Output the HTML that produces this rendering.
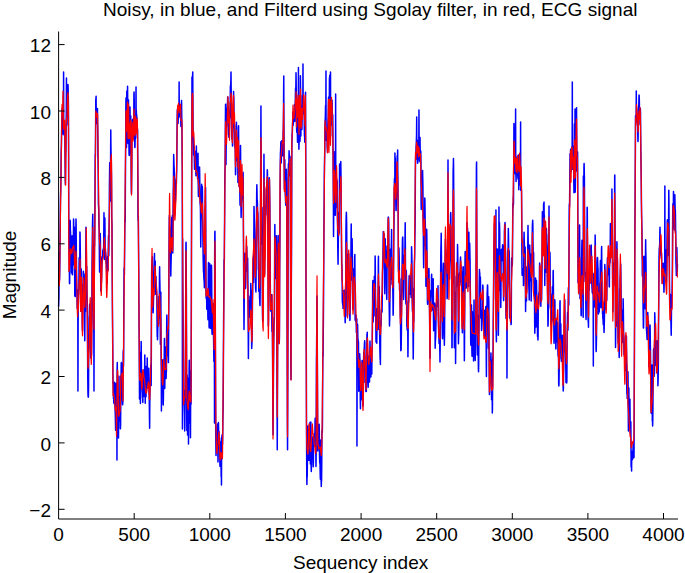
<!DOCTYPE html>
<html><head><meta charset="utf-8"><style>
html,body{margin:0;padding:0;background:#fff;width:685px;height:573px;overflow:hidden}
svg text{font-family:"Liberation Sans",sans-serif;fill:#000}
</style></head><body>
<svg width="685" height="573" viewBox="0 0 685 573" style="position:absolute;left:0;top:0"><path d="M58.60 306.4 58.75 300.8 58.90 299.0 59.05 269.4 59.20 252.6 59.36 263.0 59.51 280.1 59.66 276.6 59.81 264.5 59.96 246.7 60.11 237.0 60.26 219.0 60.41 202.8 60.57 195.1 60.72 190.6 60.87 182.9 61.02 168.6 61.17 152.5 61.32 148.6 61.47 143.1 61.62 131.9 61.78 120.0 61.93 116.1 62.08 108.2 62.23 120.8 62.38 132.6 62.53 134.0 62.68 127.8 62.83 112.4 62.99 107.6 63.14 116.7 63.29 130.6 63.44 129.5 63.59 72.0 63.74 129.5 63.89 134.1 64.04 135.0 64.20 128.9 64.35 121.7 64.50 126.8 64.65 132.7 64.80 132.4 64.95 147.8 65.10 162.9 65.25 179.9 65.41 184.6 65.56 171.7 65.71 154.9 65.86 152.0 66.01 140.3 66.16 126.2 66.31 114.2 66.46 78.0 66.61 125.4 66.77 124.8 66.92 114.7 67.07 108.0 67.22 97.1 67.37 101.8 67.52 115.4 67.67 110.5 67.82 93.4 67.98 84.6 68.13 87.8 68.28 94.8 68.43 106.1 68.58 143.3 68.73 208.8 68.88 243.2 69.03 250.3 69.19 257.9 69.34 264.0 69.49 283.6 69.64 283.7 69.79 251.9 69.94 233.3 70.09 220.3 70.24 221.7 70.40 231.3 70.55 231.6 70.70 256.3 70.85 263.1 71.00 264.2 71.15 263.2 71.30 264.2 71.45 273.0 71.61 270.8 71.76 259.2 71.91 241.1 72.06 235.8 72.21 254.7 72.36 274.8 72.51 274.5 72.66 267.5 72.82 263.4 72.97 263.3 73.12 265.0 73.27 261.5 73.42 237.6 73.57 219.1 73.72 223.1 73.87 241.2 74.02 241.7 74.18 235.2 74.33 227.1 74.48 231.9 74.63 267.4 74.78 296.0 74.93 295.8 75.08 294.6 75.23 296.6 75.39 293.6 75.54 282.0 75.69 278.8 75.84 235.5 75.99 219.1 76.14 225.4 76.29 249.6 76.44 260.3 76.60 276.4 76.75 286.3 76.90 292.8 77.05 298.8 77.20 308.5 77.35 304.3 77.50 295.9 77.65 290.0 77.81 313.4 77.96 391.0 78.11 326.2 78.26 305.6 78.41 294.1 78.56 294.5 78.71 290.0 78.86 289.4 79.02 269.3 79.17 257.8 79.32 262.9 79.47 271.4 79.62 282.9 79.77 268.1 79.92 232.0 80.07 233.1 80.23 246.8 80.38 259.6 80.53 284.1 80.68 308.3 80.83 311.2 80.98 296.3 81.13 277.6 81.28 269.0 81.43 286.7 81.59 303.2 81.74 303.3 81.89 290.5 82.04 295.2 82.19 310.4 82.34 326.9 82.49 330.7 82.64 309.8 82.80 293.8 82.95 284.6 83.10 290.0 83.25 272.9 83.40 271.3 83.55 273.1 83.70 279.3 83.85 283.3 84.01 283.7 84.16 294.3 84.31 302.0 84.46 302.5 84.61 319.7 84.76 340.7 84.91 320.3 85.06 288.9 85.22 273.9 85.37 295.1 85.52 311.4 85.67 292.4 85.82 259.6 85.97 227.2 86.12 230.8 86.27 247.3 86.43 271.4 86.58 268.4 86.73 266.4 86.88 280.1 87.03 294.9 87.18 297.6 87.33 311.2 87.48 342.0 87.64 358.2 87.79 379.4 87.94 392.4 88.09 396.2 88.24 397.2 88.39 397.1 88.54 387.5 88.69 356.3 88.84 345.4 89.00 331.6 89.15 316.8 89.30 318.3 89.45 310.1 89.60 304.5 89.75 304.2 89.90 324.9 90.05 324.8 90.21 319.5 90.36 313.7 90.51 325.5 90.66 331.7 90.81 358.1 90.96 351.3 91.11 345.1 91.26 347.5 91.42 355.6 91.57 353.2 91.72 334.4 91.87 302.6 92.02 267.9 92.17 254.3 92.32 239.4 92.47 227.1 92.63 219.1 92.78 214.3 92.93 229.6 93.08 272.3 93.23 300.2 93.38 306.6 93.53 318.7 93.68 325.8 93.84 332.3 93.99 391.0 94.14 326.1 94.29 274.4 94.44 244.4 94.59 246.0 94.74 234.8 94.89 214.5 95.05 177.7 95.20 154.2 95.35 157.3 95.50 140.0 95.65 120.7 95.80 99.0 95.95 99.0 96.10 96.2 96.26 120.6 96.41 123.4 96.56 116.1 96.71 111.8 96.86 113.0 97.01 113.2 97.16 119.7 97.31 116.4 97.46 108.6 97.62 124.0 97.77 130.6 97.92 154.5 98.07 161.6 98.22 174.9 98.37 202.2 98.52 206.1 98.67 207.7 98.83 216.1 98.98 224.6 99.13 228.3 99.28 242.8 99.43 261.0 99.58 272.1 99.73 258.7 99.88 250.3 100.04 235.3 100.19 233.4 100.34 237.6 100.49 248.8 100.64 272.2 100.79 290.9 100.94 290.4 101.09 282.1 101.25 272.9 101.40 283.0 101.55 279.5 101.70 272.1 101.85 267.3 102.00 259.2 102.15 256.8 102.30 261.3 102.46 256.6 102.61 257.8 102.76 251.2 102.91 250.4 103.06 250.1 103.21 249.0 103.36 251.6 103.51 249.3 103.67 247.2 103.82 229.6 103.97 212.7 104.12 225.1 104.27 246.4 104.42 259.5 104.57 245.7 104.72 217.7 104.87 218.8 105.03 233.9 105.18 250.7 105.33 254.8 105.48 252.1 105.63 253.9 105.78 255.6 105.93 255.3 106.08 263.5 106.24 258.9 106.39 261.6 106.54 268.2 106.69 271.7 106.84 266.8 106.99 268.1 107.14 283.5 107.29 276.4 107.45 262.9 107.60 256.6 107.75 258.1 107.90 269.9 108.05 270.6 108.20 254.5 108.35 243.2 108.50 235.6 108.66 247.7 108.81 255.7 108.96 242.4 109.11 226.3 109.26 216.0 109.41 186.8 109.56 174.6 109.71 162.7 109.87 177.8 110.02 178.9 110.17 188.8 110.32 201.0 110.47 175.8 110.62 156.9 110.77 130.0 110.92 145.5 111.08 155.8 111.23 154.2 111.38 170.3 111.53 176.3 111.68 217.0 111.83 221.3 111.98 225.1 112.13 252.1 112.28 283.0 112.44 311.1 112.59 328.1 112.74 345.8 112.89 371.0 113.04 383.5 113.19 383.7 113.34 386.9 113.49 398.7 113.65 393.2 113.80 402.0 113.95 403.5 114.10 396.0 114.25 390.4 114.40 382.3 114.55 388.7 114.70 398.2 114.86 402.5 115.01 406.5 115.16 410.5 115.31 415.0 115.46 421.9 115.61 430.2 115.76 407.5 115.91 383.3 116.07 384.8 116.22 392.2 116.37 404.5 116.52 408.8 116.67 404.8 116.82 395.5 116.97 460.0 117.12 369.1 117.28 362.6 117.43 380.1 117.58 397.8 117.73 383.9 117.88 376.8 118.03 375.9 118.18 399.9 118.33 418.3 118.49 437.9 118.64 414.9 118.79 409.7 118.94 400.9 119.09 400.0 119.24 396.5 119.39 405.1 119.54 420.9 119.69 418.1 119.85 395.7 120.00 376.2 120.15 401.4 120.30 428.1 120.45 428.8 120.60 424.0 120.75 405.0 120.90 396.0 121.06 378.7 121.21 363.4 121.36 362.6 121.51 365.4 121.66 363.3 121.81 381.8 121.96 395.9 122.11 394.6 122.27 397.7 122.42 399.4 122.57 404.8 122.72 403.9 122.87 401.5 123.02 387.8 123.17 353.8 123.32 350.2 123.48 366.4 123.63 360.9 123.78 319.1 123.93 289.3 124.08 268.1 124.23 270.0 124.38 274.7 124.53 261.1 124.69 238.5 124.84 224.0 124.99 218.0 125.14 222.3 125.29 204.0 125.44 175.8 125.59 153.6 125.74 132.0 125.90 102.7 126.05 97.7 126.20 112.8 126.35 142.6 126.50 147.5 126.65 137.3 126.80 91.0 126.95 133.1 127.10 129.4 127.26 114.2 127.41 99.8 127.56 86.3 127.71 101.5 127.86 131.1 128.01 143.3 128.16 137.6 128.31 112.0 128.47 100.1 128.62 110.9 128.77 129.5 128.92 142.2 129.07 154.0 129.22 155.5 129.37 155.0 129.52 152.6 129.68 144.8 129.83 117.1 129.98 106.9 130.13 117.8 130.28 126.2 130.43 133.0 130.58 128.9 130.73 115.7 130.89 129.5 131.04 149.7 131.19 175.6 131.34 189.8 131.49 193.5 131.64 178.8 131.79 166.3 131.94 145.0 132.10 124.7 132.25 124.1 132.40 124.6 132.55 119.6 132.70 119.4 132.85 121.7 133.00 131.6 133.15 128.0 133.31 134.6 133.46 138.8 133.61 136.5 133.76 122.8 133.91 94.2 134.06 92.1 134.21 99.8 134.36 116.5 134.51 126.8 134.67 135.4 134.82 147.6 134.97 147.1 135.12 139.4 135.27 138.9 135.42 116.8 135.57 121.8 135.72 124.3 135.88 118.5 136.03 87.0 136.18 123.3 136.33 110.3 136.48 117.0 136.63 114.6 136.78 117.0 136.93 117.4 137.09 126.5 137.24 137.9 137.39 136.0 137.54 129.1 137.69 155.2 137.84 179.6 137.99 216.2 138.14 220.6 138.30 215.7 138.45 228.6 138.60 250.2 138.75 269.7 138.90 300.7 139.05 323.4 139.20 338.3 139.35 369.0 139.51 398.9 139.66 399.2 139.81 378.0 139.96 352.2 140.11 364.5 140.26 381.5 140.41 403.6 140.56 388.5 140.72 374.2 140.87 370.9 141.02 359.0 141.17 341.4 141.32 353.3 141.47 369.6 141.62 382.5 141.77 380.6 141.92 376.9 142.08 383.8 142.23 389.5 142.38 393.3 142.53 398.3 142.68 395.8 142.83 402.4 142.98 391.8 143.13 371.1 143.29 370.1 143.44 378.8 143.59 391.1 143.74 386.0 143.89 373.6 144.04 373.3 144.19 381.5 144.34 396.5 144.50 395.6 144.65 365.9 144.80 354.9 144.95 370.3 145.10 393.8 145.25 403.3 145.40 381.1 145.55 366.2 145.71 367.4 145.86 386.5 146.01 396.7 146.16 390.8 146.31 375.2 146.46 368.4 146.61 376.0 146.76 387.3 146.92 377.3 147.07 369.9 147.22 358.0 147.37 367.5 147.52 379.1 147.67 373.0 147.82 381.8 147.97 388.1 148.13 388.1 148.28 386.9 148.43 377.8 148.58 381.3 148.73 368.3 148.88 377.1 149.03 391.8 149.18 396.1 149.34 405.5 149.49 418.7 149.64 428.2 149.79 403.4 149.94 388.6 150.09 386.5 150.24 383.4 150.39 383.1 150.54 378.8 150.70 367.3 150.85 364.8 151.00 374.5 151.15 385.4 151.30 360.7 151.45 319.3 151.60 277.7 151.75 264.5 151.91 266.4 152.06 260.0 152.21 259.0 152.36 256.7 152.51 270.3 152.66 280.7 152.81 288.4 152.96 297.0 153.12 312.8 153.27 308.3 153.42 302.8 153.57 296.7 153.72 288.8 153.87 279.0 154.02 273.6 154.17 267.6 154.33 259.8 154.48 253.6 154.63 273.9 154.78 291.3 154.93 274.4 155.08 265.6 155.23 261.1 155.38 277.1 155.54 288.6 155.69 294.2 155.84 286.0 155.99 276.6 156.14 284.4 156.29 287.4 156.44 291.4 156.59 290.5 156.75 294.5 156.90 299.9 157.05 320.6 157.20 336.6 157.35 333.5 157.50 339.8 157.65 336.2 157.80 326.5 157.95 315.2 158.11 321.9 158.26 324.8 158.41 324.6 158.56 315.8 158.71 306.1 158.86 296.6 159.01 304.9 159.16 318.0 159.32 306.1 159.47 277.1 159.62 266.8 159.77 279.5 159.92 284.8 160.07 297.8 160.22 324.2 160.37 344.3 160.53 325.2 160.68 300.5 160.83 292.2 160.98 327.0 161.13 357.6 161.28 370.0 161.43 411.0 161.58 375.9 161.74 373.0 161.89 383.9 162.04 374.0 162.19 377.6 162.34 372.8 162.49 370.5 162.64 367.2 162.79 359.7 162.95 377.9 163.10 403.4 163.25 404.9 163.40 398.6 163.55 382.7 163.70 382.4 163.85 377.4 164.00 383.6 164.16 369.8 164.31 347.4 164.46 338.4 164.61 364.7 164.76 388.5 164.91 379.2 165.06 362.0 165.21 355.8 165.36 350.1 165.52 349.4 165.67 347.0 165.82 363.3 165.97 372.8 166.12 378.4 166.27 371.5 166.42 371.4 166.57 345.4 166.73 320.5 166.88 315.0 167.03 336.1 167.18 347.2 167.33 348.1 167.48 345.6 167.63 331.5 167.78 347.1 167.94 356.1 168.09 353.6 168.24 354.3 168.39 362.6 168.54 347.2 168.69 319.6 168.84 293.7 168.99 260.0 169.15 235.0 169.30 218.4 169.45 215.4 169.60 229.0 169.75 226.7 169.90 230.6 170.05 246.6 170.20 240.3 170.36 236.1 170.51 249.6 170.66 261.8 170.81 276.0 170.96 266.7 171.11 260.8 171.26 254.3 171.41 234.5 171.57 221.4 171.72 217.6 171.87 221.7 172.02 221.5 172.17 220.8 172.32 216.8 172.47 215.3 172.62 238.1 172.77 253.0 172.93 239.0 173.08 218.4 173.23 193.7 173.38 185.0 173.53 172.7 173.68 154.4 173.83 159.3 173.98 164.8 174.14 167.1 174.29 171.7 174.44 179.1 174.59 197.8 174.74 212.7 174.89 214.9 175.04 201.0 175.19 206.0 175.35 196.0 175.50 193.0 175.65 190.8 175.80 187.8 175.95 184.6 176.10 178.9 176.25 179.2 176.40 183.4 176.56 173.9 176.71 171.9 176.86 157.4 177.01 137.2 177.16 118.5 177.31 109.7 177.46 119.6 177.61 115.9 177.77 119.0 177.92 119.0 178.07 123.4 178.22 119.2 178.37 109.0 178.52 106.3 178.67 106.9 178.82 114.4 178.98 117.2 179.13 82.0 179.28 116.2 179.43 111.7 179.58 109.8 179.73 105.9 179.88 112.7 180.03 112.2 180.18 110.3 180.34 115.5 180.49 115.2 180.64 117.5 180.79 120.7 180.94 126.6 181.09 118.6 181.24 109.0 181.39 107.0 181.55 100.4 181.70 112.4 181.85 122.6 182.00 134.0 182.15 157.0 182.30 170.3 182.45 429.0 182.60 238.7 182.76 280.8 182.91 301.1 183.06 311.0 183.21 326.4 183.36 361.1 183.51 402.2 183.66 398.6 183.81 397.6 183.97 390.5 184.12 399.5 184.27 407.1 184.42 412.1 184.57 419.3 184.72 431.1 184.87 425.0 185.02 407.8 185.18 397.6 185.33 371.6 185.48 347.0 185.63 314.6 185.78 280.5 185.93 243.6 186.08 242.2 186.23 270.8 186.39 295.0 186.54 345.1 186.69 403.0 186.84 430.4 186.99 407.6 187.14 374.9 187.29 382.5 187.44 415.7 187.59 435.1 187.75 433.3 187.90 422.6 188.05 424.9 188.20 402.2 188.35 378.0 188.50 444.0 188.65 409.7 188.80 423.4 188.96 400.6 189.11 370.7 189.26 360.3 189.41 380.0 189.56 398.5 189.71 392.1 189.86 375.5 190.01 370.8 190.17 399.3 190.32 427.1 190.47 437.7 190.62 403.9 190.77 386.2 190.92 398.8 191.07 404.2 191.22 362.0 191.38 287.7 191.53 215.8 191.68 166.5 191.83 145.2 191.98 77.0 192.13 94.1 192.28 83.0 192.43 78.1 192.59 76.2 192.74 71.9 192.89 97.6 193.04 123.7 193.19 137.5 193.34 138.8 193.49 143.8 193.64 154.9 193.80 150.1 193.95 147.1 194.10 148.3 194.25 154.0 194.40 163.1 194.55 169.2 194.70 164.8 194.85 165.6 195.00 162.0 195.16 161.4 195.31 163.0 195.46 151.4 195.61 155.2 195.76 160.5 195.91 175.8 196.06 172.5 196.21 163.6 196.37 146.1 196.52 160.5 196.67 166.8 196.82 172.9 196.97 173.7 197.12 164.4 197.27 161.2 197.42 173.6 197.58 178.8 197.73 172.7 197.88 160.1 198.03 153.2 198.18 179.1 198.33 192.2 198.48 196.6 198.63 184.6 198.79 177.0 198.94 181.7 199.09 182.2 199.24 189.8 199.39 171.9 199.54 167.1 199.69 173.5 199.84 185.9 200.00 199.4 200.15 204.2 200.30 204.5 200.45 208.4 200.60 223.3 200.75 246.9 200.90 234.1 201.05 222.0 201.21 214.0 201.36 205.0 201.51 188.0 201.66 184.2 201.81 189.9 201.96 195.2 202.11 194.9 202.26 186.4 202.41 189.2 202.57 205.4 202.72 221.6 202.87 232.5 203.02 248.1 203.17 259.3 203.32 264.0 203.47 271.9 203.62 271.9 203.78 275.5 203.93 278.9 204.08 280.6 204.23 282.0 204.38 287.7 204.53 272.2 204.68 249.7 204.83 241.1 204.99 229.6 205.14 206.8 205.29 205.1 205.44 191.6 205.59 187.5 205.74 225.5 205.89 266.3 206.04 293.7 206.20 298.4 206.35 298.5 206.50 296.7 206.65 298.6 206.80 309.3 206.95 307.0 207.10 305.2 207.25 300.4 207.41 298.7 207.56 298.7 207.71 295.6 207.86 316.4 208.01 319.7 208.16 301.9 208.31 270.8 208.46 262.4 208.62 282.9 208.77 293.2 208.92 302.1 209.07 326.2 209.22 327.9 209.37 301.2 209.52 270.8 209.67 263.4 209.82 269.1 209.98 264.8 210.13 281.5 210.28 309.4 210.43 325.5 210.58 327.6 210.73 328.5 210.88 318.9 211.03 285.5 211.19 268.2 211.34 265.3 211.49 265.2 211.64 272.5 211.79 295.6 211.94 330.8 212.09 334.3 212.24 328.4 212.40 324.6 212.55 316.8 212.70 315.2 212.85 314.4 213.00 303.8 213.15 310.0 213.30 322.7 213.45 332.4 213.61 340.2 213.76 351.1 213.91 361.5 214.06 357.7 214.21 343.3 214.36 303.0 214.51 423.0 214.66 257.8 214.82 232.5 214.97 231.2 215.12 272.3 215.27 314.9 215.42 356.1 215.57 396.7 215.72 430.0 215.87 442.4 216.03 455.4 216.18 444.1 216.33 435.1 216.48 443.0 216.63 444.4 216.78 440.7 216.93 443.7 217.08 443.2 217.24 441.4 217.39 428.5 217.54 425.9 217.69 423.9 217.84 447.4 217.99 462.0 218.14 455.4 218.29 433.8 218.44 422.5 218.60 428.6 218.75 438.9 218.90 440.9 219.05 431.4 219.20 444.1 219.35 437.9 219.50 438.4 219.65 441.8 219.81 457.4 219.96 466.2 220.11 466.5 220.26 457.9 220.41 460.9 220.56 451.4 220.71 442.0 220.86 447.8 221.02 459.7 221.17 476.7 221.32 465.1 221.47 485.0 221.62 437.2 221.77 440.8 221.92 439.6 222.07 434.8 222.23 444.2 222.38 444.9 222.53 443.5 222.68 437.2 222.83 420.2 222.98 414.8 223.13 406.6 223.28 387.0 223.44 351.8 223.59 323.9 223.74 304.1 223.89 286.5 224.04 259.7 224.19 264.2 224.34 259.3 224.49 236.9 224.65 210.2 224.80 181.1 224.95 171.5 225.10 167.4 225.25 147.9 225.40 120.9 225.55 104.2 225.70 119.4 225.85 141.5 226.01 164.6 226.16 146.2 226.31 124.2 226.46 120.7 226.61 125.3 226.76 113.7 226.91 116.3 227.06 108.2 227.22 113.2 227.37 102.9 227.52 105.5 227.67 96.9 227.82 103.3 227.97 111.9 228.12 106.3 228.27 122.6 228.43 134.7 228.58 131.9 228.73 135.5 228.88 137.2 229.03 128.5 229.18 130.6 229.33 129.7 229.48 121.4 229.64 110.8 229.79 109.7 229.94 118.0 230.09 115.1 230.24 99.4 230.39 86.0 230.54 89.9 230.69 85.6 230.85 80.9 231.00 72.0 231.15 87.6 231.30 96.3 231.45 118.0 231.60 128.1 231.75 138.7 231.90 136.5 232.06 137.7 232.21 137.7 232.36 133.1 232.51 146.0 232.66 145.8 232.81 135.0 232.96 127.2 233.11 127.5 233.26 120.6 233.42 106.7 233.57 91.6 233.72 98.1 233.87 97.2 234.02 116.0 234.17 117.5 234.32 128.0 234.47 124.3 234.63 130.0 234.78 143.2 234.93 148.1 235.08 147.1 235.23 147.2 235.38 158.7 235.53 174.7 235.68 172.1 235.84 161.1 235.99 152.9 236.14 148.3 236.29 134.1 236.44 122.2 236.59 131.3 236.74 146.7 236.89 154.9 237.05 158.5 237.20 160.6 237.35 149.9 237.50 141.5 237.65 146.9 237.80 163.7 237.95 182.4 238.10 170.8 238.26 142.9 238.41 127.4 238.56 125.7 238.71 154.2 238.86 173.0 239.01 180.2 239.16 186.8 239.31 168.5 239.47 170.1 239.62 163.0 239.77 180.0 239.92 198.9 240.07 205.2 240.22 180.0 240.37 154.0 240.52 145.4 240.67 167.5 240.83 184.0 240.98 207.6 241.13 217.4 241.28 210.2 241.43 201.1 241.58 202.2 241.73 190.5 241.88 183.5 242.04 176.7 242.19 175.0 242.34 180.5 242.49 191.7 242.64 198.6 242.79 198.7 242.94 182.9 243.09 172.2 243.25 187.0 243.40 220.4 243.55 258.4 243.70 281.5 243.85 308.0 244.00 329.4 244.15 315.5 244.30 287.0 244.46 271.2 244.61 262.4 244.76 253.8 244.91 253.3 245.06 270.0 245.21 275.1 245.36 280.3 245.51 288.5 245.67 286.8 245.82 274.6 245.97 259.7 246.12 260.8 246.27 268.4 246.42 267.6 246.57 261.7 246.72 246.4 246.88 253.5 247.03 264.0 247.18 271.4 247.33 268.2 247.48 265.1 247.63 258.1 247.78 268.0 247.93 285.9 248.08 300.0 248.24 332.2 248.39 358.5 248.54 343.1 248.69 315.3 248.84 300.9 248.99 308.2 249.14 309.8 249.29 308.5 249.45 312.7 249.60 317.2 249.75 314.7 249.90 297.6 250.05 295.9 250.20 301.1 250.35 306.4 250.50 298.5 250.66 292.7 250.81 283.6 250.96 289.0 251.11 290.4 251.26 300.2 251.41 312.6 251.56 335.3 251.71 348.4 251.87 344.9 252.02 340.7 252.17 332.9 252.32 318.1 252.47 301.5 252.62 294.1 252.77 284.7 252.92 275.1 253.08 268.5 253.23 258.3 253.38 267.1 253.53 282.5 253.68 266.6 253.83 240.9 253.98 206.4 254.13 210.1 254.29 220.4 254.44 224.5 254.59 230.1 254.74 235.5 254.89 244.3 255.04 252.3 255.19 255.0 255.34 273.8 255.49 281.2 255.65 288.9 255.80 289.9 255.95 291.9 256.10 272.1 256.25 244.5 256.40 234.6 256.55 210.2 256.70 191.5 256.86 184.8 257.01 191.4 257.16 200.8 257.31 200.2 257.46 205.0 257.61 211.8 257.76 213.2 257.91 212.7 258.07 222.1 258.22 247.5 258.37 269.4 258.52 267.8 258.67 277.7 258.82 291.5 258.97 287.2 259.12 273.3 259.28 280.3 259.43 289.4 259.58 299.0 259.73 298.3 259.88 304.0 260.03 305.6 260.18 290.5 260.33 243.6 260.49 211.6 260.64 172.3 260.79 149.1 260.94 106.0 261.09 150.9 261.24 178.8 261.39 216.0 261.54 234.1 261.70 244.2 261.85 221.3 262.00 207.4 262.15 235.3 262.30 279.2 262.45 309.9 262.60 318.6 262.75 321.2 262.90 316.3 263.06 303.3 263.21 296.5 263.36 279.0 263.51 249.3 263.66 220.7 263.81 189.8 263.96 154.3 264.11 181.9 264.27 236.7 264.42 275.3 264.57 273.1 264.72 261.3 264.87 245.5 265.02 239.1 265.17 225.9 265.32 223.2 265.48 215.5 265.63 205.5 265.78 206.5 265.93 215.0 266.08 207.0 266.23 197.4 266.38 189.9 266.53 188.7 266.69 192.5 266.84 195.8 266.99 184.4 267.14 178.0 267.29 169.7 267.44 172.3 267.59 181.2 267.74 210.9 267.90 241.6 268.05 268.5 268.20 300.8 268.35 325.9 268.50 322.2 268.65 282.5 268.80 254.3 268.95 228.2 269.11 207.7 269.26 177.7 269.41 180.1 269.56 187.3 269.71 198.0 269.86 204.7 270.01 232.5 270.16 265.8 270.31 285.6 270.47 304.9 270.62 310.9 270.77 308.7 270.92 308.6 271.07 295.0 271.22 294.8 271.37 296.7 271.52 295.0 271.68 294.9 271.83 322.1 271.98 331.6 272.13 316.4 272.28 312.7 272.43 335.6 272.58 355.9 272.73 379.9 272.89 421.0 273.04 434.7 273.19 412.3 273.34 391.9 273.49 367.3 273.64 352.1 273.79 334.0 273.94 325.5 274.10 317.6 274.25 323.3 274.40 316.1 274.55 289.3 274.70 238.8 274.85 224.5 275.00 243.9 275.15 268.3 275.31 270.2 275.46 273.9 275.61 272.6 275.76 278.5 275.91 278.4 276.06 276.5 276.21 252.6 276.36 235.7 276.52 250.5 276.67 296.5 276.82 339.4 276.97 388.0 277.12 415.5 277.27 449.7 277.42 407.6 277.57 360.3 277.73 325.2 277.88 282.3 278.03 244.7 278.18 235.4 278.33 260.6 278.48 263.7 278.63 265.0 278.78 266.2 278.93 288.5 279.09 326.1 279.24 343.5 279.39 338.2 279.54 298.2 279.69 263.9 279.84 250.7 279.99 218.8 280.14 187.6 280.30 163.0 280.45 152.8 280.60 151.1 280.75 144.4 280.90 141.8 281.05 158.7 281.20 162.9 281.35 159.4 281.51 147.6 281.66 148.7 281.81 140.7 281.96 143.7 282.11 147.1 282.26 147.6 282.41 143.5 282.56 148.1 282.72 155.7 282.87 155.8 283.02 150.6 283.17 131.4 283.32 128.0 283.47 116.2 283.62 94.1 283.77 76.0 283.93 123.7 284.08 145.6 284.23 165.4 284.38 189.4 284.53 186.6 284.68 169.0 284.83 159.7 284.98 177.2 285.14 188.1 285.29 193.2 285.44 197.8 285.59 201.3 285.74 205.2 285.89 204.8 286.04 196.6 286.19 181.8 286.34 169.2 286.50 174.6 286.65 188.4 286.80 230.3 286.95 271.7 287.10 327.0 287.25 376.9 287.40 428.7 287.55 449.7 287.71 404.9 287.86 361.9 288.01 312.5 288.16 246.4 288.31 170.0 288.46 163.8 288.61 173.7 288.76 169.3 288.92 161.8 289.07 150.8 289.22 154.0 289.37 158.2 289.52 174.5 289.67 175.8 289.82 156.1 289.97 156.3 290.13 160.1 290.28 190.2 290.43 246.8 290.58 289.8 290.73 333.3 290.88 372.7 291.03 379.5 291.18 314.5 291.34 281.7 291.49 260.1 291.64 222.4 291.79 158.1 291.94 142.9 292.09 134.2 292.24 133.8 292.39 130.4 292.55 125.7 292.70 121.3 292.85 112.6 293.00 116.4 293.15 125.1 293.30 122.5 293.45 120.0 293.60 115.7 293.75 114.5 293.91 117.0 294.06 114.2 294.21 109.7 294.36 108.0 294.51 104.5 294.66 116.9 294.81 121.6 294.96 115.2 295.12 107.3 295.27 103.2 295.42 93.7 295.57 88.2 295.72 89.8 295.87 85.9 296.02 72.7 296.17 82.4 296.33 99.5 296.48 120.2 296.63 128.7 296.78 132.2 296.93 120.0 297.08 116.4 297.23 126.0 297.38 133.9 297.54 142.2 297.69 132.6 297.84 124.0 297.99 120.5 298.14 114.8 298.29 117.3 298.44 67.5 298.59 127.6 298.75 138.7 298.90 149.3 299.05 143.6 299.20 133.4 299.35 122.5 299.50 108.4 299.65 122.5 299.80 131.7 299.96 141.4 300.11 137.9 300.26 100.5 300.41 75.8 300.56 88.8 300.71 117.9 300.86 135.9 301.01 123.6 301.16 120.2 301.32 120.8 301.47 112.0 301.62 106.3 301.77 110.4 301.92 129.5 302.07 120.7 302.22 109.3 302.37 95.5 302.53 98.5 302.68 108.7 302.83 113.4 302.98 64.0 303.13 98.0 303.28 94.5 303.43 104.7 303.58 108.5 303.74 113.9 303.89 106.1 304.04 105.4 304.19 114.4 304.34 129.2 304.49 135.9 304.64 136.5 304.79 142.2 304.95 139.8 305.10 133.3 305.25 113.3 305.40 94.9 305.55 92.3 305.70 147.3 305.85 211.3 306.00 281.9 306.16 322.5 306.31 353.1 306.46 406.8 306.61 449.1 306.76 475.2 306.91 484.5 307.06 474.8 307.21 477.3 307.37 463.0 307.52 446.4 307.67 438.6 307.82 436.1 307.97 425.9 308.12 438.1 308.27 453.8 308.42 460.2 308.57 445.2 308.73 443.5 308.88 448.0 309.03 459.4 309.18 460.3 309.33 450.4 309.48 441.8 309.63 444.5 309.78 432.2 309.94 422.6 310.09 429.8 310.24 452.9 310.39 464.1 310.54 452.0 310.69 427.8 310.84 421.9 310.99 446.0 311.15 467.6 311.30 471.4 311.45 464.5 311.60 456.6 311.75 455.1 311.90 456.3 312.05 450.4 312.20 447.7 312.36 449.6 312.51 451.5 312.66 440.8 312.81 436.7 312.96 445.8 313.11 462.8 313.26 466.7 313.41 461.0 313.57 442.1 313.72 444.6 313.87 437.8 314.02 436.3 314.17 446.8 314.32 433.5 314.47 440.8 314.62 439.2 314.78 437.2 314.93 431.6 315.08 420.2 315.23 418.2 315.38 423.4 315.53 429.8 315.68 436.2 315.83 451.8 315.98 466.5 316.14 454.9 316.29 408.9 316.44 361.7 316.59 348.4 316.74 330.1 316.89 301.8 317.04 295.9 317.19 330.3 317.35 359.8 317.50 389.4 317.65 427.6 317.80 450.9 317.95 444.0 318.10 440.3 318.25 437.9 318.40 433.2 318.56 432.7 318.71 435.7 318.86 430.0 319.01 431.7 319.16 424.3 319.31 431.3 319.46 448.8 319.61 458.9 319.77 463.3 319.92 458.4 320.07 465.0 320.22 475.2 320.37 479.3 320.52 469.4 320.67 445.2 320.82 440.1 320.98 467.8 321.13 481.6 321.28 486.6 321.43 481.0 321.58 481.2 321.73 465.0 321.88 438.9 322.03 430.3 322.19 431.0 322.34 432.3 322.49 418.5 322.64 386.2 322.79 364.1 322.94 351.9 323.09 356.6 323.24 334.2 323.39 320.3 323.55 296.3 323.70 269.5 323.85 243.5 324.00 218.6 324.15 202.5 324.30 178.1 324.45 165.1 324.60 158.8 324.76 150.3 324.91 129.7 325.06 124.1 325.21 119.7 325.36 116.7 325.51 105.8 325.66 108.0 325.81 123.3 325.97 71.0 326.12 140.3 326.27 130.1 326.42 131.9 326.57 134.2 326.72 131.6 326.87 132.5 327.02 137.4 327.18 148.6 327.33 148.4 327.48 152.1 327.63 133.6 327.78 129.2 327.93 122.3 328.08 119.6 328.23 117.4 328.39 105.2 328.54 97.2 328.69 107.6 328.84 123.6 328.99 138.8 329.14 134.8 329.29 106.6 329.44 77.9 329.60 80.5 329.75 75.2 329.90 79.6 330.05 81.0 330.20 102.8 330.35 129.0 330.50 72.0 330.65 135.9 330.81 118.3 330.96 119.8 331.11 121.1 331.26 125.3 331.41 108.8 331.56 107.2 331.71 105.6 331.86 105.4 332.01 100.3 332.17 104.3 332.32 113.4 332.47 118.1 332.62 114.7 332.77 114.8 332.92 135.9 333.07 153.1 333.22 173.4 333.38 199.8 333.53 236.5 333.68 212.3 333.83 183.0 333.98 151.6 334.13 159.0 334.28 160.4 334.43 174.0 334.59 177.0 334.74 189.2 334.89 196.4 335.04 204.6 335.19 215.2 335.34 215.3 335.49 205.7 335.64 94.0 335.80 204.1 335.95 195.0 336.10 193.0 336.25 195.7 336.40 181.3 336.55 178.5 336.70 181.1 336.85 207.5 337.01 195.4 337.16 180.6 337.31 194.1 337.46 220.2 337.61 227.1 337.76 245.7 337.91 256.4 338.06 264.3 338.22 249.2 338.37 236.3 338.52 234.4 338.67 221.8 338.82 212.2 338.97 222.5 339.12 233.2 339.27 226.7 339.42 193.7 339.58 163.9 339.73 169.7 339.88 164.6 340.03 167.0 340.18 176.2 340.33 186.4 340.48 185.0 340.63 174.2 340.79 161.6 340.94 172.1 341.09 198.4 341.24 217.0 341.39 234.9 341.54 250.1 341.69 264.8 341.84 264.6 342.00 268.8 342.15 281.2 342.30 299.3 342.45 303.0 342.60 297.3 342.75 305.2 342.90 303.4 343.05 308.6 343.21 308.2 343.36 300.8 343.51 290.7 343.66 295.2 343.81 298.4 343.96 305.3 344.11 303.1 344.26 294.3 344.42 290.3 344.57 294.8 344.72 302.1 344.87 305.8 345.02 315.4 345.17 322.7 345.32 317.8 345.47 312.5 345.63 305.1 345.78 267.7 345.93 231.6 346.08 221.0 346.23 215.5 346.38 212.3 346.53 217.3 346.68 225.7 346.83 249.0 346.99 273.5 347.14 295.7 347.29 316.6 347.44 313.7 347.59 315.2 347.74 308.4 347.89 277.1 348.04 266.0 348.20 258.6 348.35 254.8 348.50 254.0 348.65 254.5 348.80 253.8 348.95 265.4 349.10 280.4 349.25 296.3 349.41 300.0 349.56 300.5 349.71 312.3 349.86 320.4 350.01 319.2 350.16 311.4 350.31 303.2 350.46 291.6 350.62 273.2 350.77 267.4 350.92 258.3 351.07 233.7 351.22 224.1 351.37 247.1 351.52 273.7 351.67 280.0 351.83 260.6 351.98 246.6 352.13 238.8 352.28 249.0 352.43 257.9 352.58 285.6 352.73 300.5 352.88 309.3 353.04 286.2 353.19 280.7 353.34 281.2 353.49 277.0 353.64 269.0 353.79 275.7 353.94 270.6 354.09 275.8 354.24 269.7 354.40 277.5 354.55 270.2 354.70 257.1 354.85 254.4 355.00 282.7 355.15 319.8 355.30 320.2 355.45 315.7 355.61 317.6 355.76 321.4 355.91 316.2 356.06 315.3 356.21 322.8 356.36 332.4 356.51 330.0 356.66 324.3 356.82 318.8 356.97 446.0 357.12 370.7 357.27 371.7 357.42 345.5 357.57 324.2 357.72 329.8 357.87 339.3 358.03 339.0 358.18 340.9 358.33 346.6 358.48 341.7 358.63 372.1 358.78 391.2 358.93 389.1 359.08 370.4 359.24 372.6 359.39 358.5 359.54 355.5 359.69 353.8 359.84 358.9 359.99 360.1 360.14 370.7 360.29 400.4 360.45 408.7 360.60 397.9 360.75 377.0 360.90 379.7 361.05 395.1 361.20 399.9 361.35 397.5 361.50 388.2 361.65 386.1 361.81 367.2 361.96 363.9 362.11 360.4 362.26 369.8 362.41 375.6 362.56 383.2 362.71 395.0 362.86 403.7 363.02 405.9 363.17 403.2 363.32 392.5 363.47 376.2 363.62 359.6 363.77 352.4 363.92 360.4 364.07 362.4 364.23 349.3 364.38 345.4 364.53 342.2 364.68 340.7 364.83 342.6 364.98 358.9 365.13 382.5 365.28 381.7 365.44 377.4 365.59 373.2 365.74 374.2 365.89 391.5 366.04 387.5 366.19 390.6 366.34 391.5 366.49 375.4 366.65 359.7 366.80 348.0 366.95 334.3 367.10 334.2 367.25 332.3 367.40 353.5 367.55 360.1 367.70 369.4 367.86 382.2 368.01 383.0 368.16 387.3 368.31 379.7 368.46 378.7 368.61 372.2 368.76 356.3 368.91 356.7 369.06 369.0 369.22 376.3 369.37 373.1 369.52 382.0 369.67 368.6 369.82 360.2 369.97 340.9 370.12 346.9 370.27 360.8 370.43 363.4 370.58 369.2 370.73 374.2 370.88 377.1 371.03 369.3 371.18 369.5 371.33 367.8 371.48 372.8 371.64 372.9 371.79 373.9 371.94 354.8 372.09 347.9 372.24 345.7 372.39 328.6 372.54 310.1 372.69 286.4 372.85 280.6 373.00 299.2 373.15 322.1 373.30 314.9 373.45 302.8 373.60 293.4 373.75 301.0 373.90 311.9 374.06 316.1 374.21 293.8 374.36 276.3 374.51 281.4 374.66 290.7 374.81 298.5 374.96 289.6 375.11 256.1 375.27 261.4 375.42 285.4 375.57 298.9 375.72 310.0 375.87 329.3 376.02 342.0 376.17 333.7 376.32 323.1 376.47 317.1 376.63 327.9 376.78 343.3 376.93 330.8 377.08 318.4 377.23 308.5 377.38 312.8 377.53 316.4 377.68 312.0 377.84 323.0 377.99 329.6 378.14 303.9 378.29 264.3 378.44 256.2 378.59 281.0 378.74 313.2 378.89 315.6 379.05 295.7 379.20 286.6 379.35 302.2 379.50 325.3 379.65 334.4 379.80 344.1 379.95 351.7 380.10 359.0 380.26 359.7 380.41 364.5 380.56 343.5 380.71 324.3 380.86 321.1 381.01 326.4 381.16 321.8 381.31 313.4 381.47 309.5 381.62 311.3 381.77 309.9 381.92 311.5 382.07 312.0 382.22 298.8 382.37 289.2 382.52 274.2 382.68 269.2 382.83 267.9 382.98 254.9 383.13 239.5 383.28 231.4 383.43 240.8 383.58 251.4 383.73 244.8 383.88 239.9 384.04 233.8 384.19 244.8 384.34 246.7 384.49 253.9 384.64 277.9 384.79 293.8 384.94 283.9 385.09 245.8 385.25 238.7 385.40 255.0 385.55 274.0 385.70 272.2 385.85 251.9 386.00 246.1 386.15 256.8 386.30 279.5 386.46 279.4 386.61 292.9 386.76 299.4 386.91 292.0 387.06 264.6 387.21 250.8 387.36 258.9 387.51 266.6 387.67 254.9 387.82 242.2 387.97 232.5 388.12 220.4 388.27 217.0 388.42 218.3 388.57 217.8 388.72 222.7 388.88 245.3 389.03 275.5 389.18 305.5 389.33 314.6 389.48 326.1 389.63 321.3 389.78 315.5 389.93 296.5 390.09 288.2 390.24 263.8 390.39 249.2 390.54 267.3 390.69 277.2 390.84 279.3 390.99 273.9 391.14 253.5 391.30 247.1 391.45 239.7 391.60 229.4 391.75 249.3 391.90 272.7 392.05 284.2 392.20 277.5 392.35 282.4 392.50 281.9 392.66 286.9 392.81 289.0 392.96 299.0 393.11 315.3 393.26 312.3 393.41 298.9 393.56 265.1 393.71 249.3 393.87 232.2 394.02 221.4 394.17 206.6 394.32 184.5 394.47 178.5 394.62 190.8 394.77 199.6 394.92 153.0 395.08 167.6 395.23 157.7 395.38 166.7 395.53 186.0 395.68 189.4 395.83 203.5 395.98 210.1 396.13 210.6 396.29 202.3 396.44 198.8 396.59 195.2 396.74 193.3 396.89 172.3 397.04 164.8 397.19 155.8 397.34 166.0 397.50 160.2 397.65 150.0 397.80 173.6 397.95 183.5 398.10 200.1 398.25 231.1 398.40 267.1 398.55 272.1 398.71 248.8 398.86 247.7 399.01 250.9 399.16 256.6 399.31 267.9 399.46 283.5 399.61 290.8 399.76 289.2 399.91 278.7 400.07 288.4 400.22 304.7 400.37 318.0 400.52 317.9 400.67 339.2 400.82 350.7 400.97 345.5 401.12 350.2 401.28 341.1 401.43 328.0 401.58 296.3 401.73 294.1 401.88 284.7 402.03 271.1 402.18 261.0 402.33 248.2 402.49 238.9 402.64 237.5 402.79 237.1 402.94 250.2 403.09 281.7 403.24 290.9 403.39 291.4 403.54 299.4 403.70 292.3 403.85 277.6 404.00 263.2 404.15 255.4 404.30 263.8 404.45 257.1 404.60 259.3 404.75 257.3 404.91 254.4 405.06 232.8 405.21 222.7 405.36 246.3 405.51 279.6 405.66 296.5 405.81 300.7 405.96 303.9 406.12 290.7 406.27 270.6 406.42 276.4 406.57 290.1 406.72 314.6 406.87 327.1 407.02 324.8 407.17 330.0 407.32 329.5 407.48 316.8 407.63 317.9 407.78 330.9 407.93 356.8 408.08 346.3 408.23 318.2 408.38 301.7 408.53 300.5 408.69 302.3 408.84 292.0 408.99 282.7 409.14 275.7 409.29 278.1 409.44 281.8 409.59 284.1 409.74 280.5 409.90 294.2 410.05 292.1 410.20 284.3 410.35 276.1 410.50 279.0 410.65 277.5 410.80 280.3 410.95 290.6 411.11 297.4 411.26 295.7 411.41 269.7 411.56 246.7 411.71 250.4 411.86 256.8 412.01 267.7 412.16 284.0 412.32 307.7 412.47 311.1 412.62 299.3 412.77 288.3 412.92 306.1 413.07 341.6 413.22 359.0 413.37 347.7 413.53 322.2 413.68 321.3 413.83 321.8 413.98 306.0 414.13 295.3 414.28 278.7 414.43 261.0 414.58 260.1 414.73 253.3 414.89 237.6 415.04 230.0 415.19 216.0 415.34 181.9 415.49 163.0 415.64 156.8 415.79 152.3 415.94 153.8 416.10 145.4 416.25 146.0 416.40 139.6 416.55 135.1 416.70 117.0 416.85 159.0 417.00 144.2 417.15 140.0 417.31 140.4 417.46 159.3 417.61 163.3 417.76 162.6 417.91 160.5 418.06 155.7 418.21 146.6 418.36 147.5 418.52 149.8 418.67 146.5 418.82 142.8 418.97 110.0 419.12 139.2 419.27 146.5 419.42 155.8 419.57 161.2 419.73 160.5 419.88 139.5 420.03 137.4 420.18 149.1 420.33 162.2 420.48 160.9 420.63 154.1 420.78 151.1 420.94 162.0 421.09 203.0 421.24 209.6 421.39 203.2 421.54 192.7 421.69 191.1 421.84 198.6 421.99 207.8 422.14 193.9 422.30 183.1 422.45 176.2 422.60 170.4 422.75 178.4 422.90 185.5 423.05 203.9 423.20 220.9 423.35 231.8 423.51 258.1 423.66 267.7 423.81 254.7 423.96 240.2 424.11 238.9 424.26 242.0 424.41 245.6 424.56 230.3 424.72 198.0 424.87 199.0 425.02 208.5 425.17 220.4 425.32 225.3 425.47 237.8 425.62 249.3 425.77 257.3 425.93 286.2 426.08 275.9 426.23 256.3 426.38 235.0 426.53 230.8 426.68 229.2 426.83 234.6 426.98 256.4 427.14 276.0 427.29 288.8 427.44 301.4 427.59 304.3 427.74 302.9 427.89 287.5 428.04 293.7 428.19 291.3 428.35 293.9 428.50 284.5 428.65 271.4 428.80 268.4 428.95 268.5 429.10 280.3 429.25 285.3 429.40 305.7 429.55 309.7 429.71 328.2 429.86 348.1 430.01 358.2 430.16 341.3 430.31 315.8 430.46 301.8 430.61 296.8 430.76 290.4 430.92 290.9 431.07 290.2 431.22 293.8 431.37 289.3 431.52 275.6 431.67 274.2 431.82 284.8 431.97 293.9 432.13 294.0 432.28 302.4 432.43 310.0 432.58 301.5 432.73 289.6 432.88 288.4 433.03 285.8 433.18 278.8 433.34 294.2 433.49 319.5 433.64 330.7 433.79 321.0 433.94 303.4 434.09 309.7 434.24 307.1 434.39 311.0 434.55 310.1 434.70 303.9 434.85 302.9 435.00 320.7 435.15 348.2 435.30 343.4 435.45 340.2 435.60 338.5 435.76 334.5 435.91 324.7 436.06 317.1 436.21 310.4 436.36 304.6 436.51 305.2 436.66 306.6 436.81 302.9 436.96 299.3 437.12 293.5 437.27 293.7 437.42 299.6 437.57 293.1 437.72 293.8 437.87 294.5 438.02 285.8 438.17 305.7 438.33 315.6 438.48 324.5 438.63 330.1 438.78 335.5 438.93 338.0 439.08 343.5 439.23 338.2 439.38 340.6 439.54 342.3 439.69 340.7 439.84 352.1 439.99 361.9 440.14 349.3 440.29 334.5 440.44 317.4 440.59 292.0 440.75 257.1 440.90 248.2 441.05 242.8 441.20 233.2 441.35 248.3 441.50 263.2 441.65 284.0 441.80 283.1 441.96 280.1 442.11 289.3 442.26 323.5 442.41 337.2 442.56 338.8 442.71 311.6 442.86 305.2 443.01 289.2 443.17 273.5 443.32 266.5 443.47 263.2 443.62 270.2 443.77 291.3 443.92 319.1 444.07 333.2 444.22 337.6 444.37 345.2 444.53 334.4 444.68 312.5 444.83 297.4 444.98 282.3 445.13 259.0 445.28 246.4 445.43 239.2 445.58 247.2 445.74 250.1 445.89 250.0 446.04 255.6 446.19 257.1 446.34 253.8 446.49 259.0 446.64 269.1 446.79 272.3 446.95 277.6 447.10 298.8 447.25 297.0 447.40 284.1 447.55 268.3 447.70 252.2 447.85 220.1 448.00 160.0 448.16 224.2 448.31 244.6 448.46 259.6 448.61 260.7 448.76 261.5 448.91 272.4 449.06 268.9 449.21 260.7 449.37 256.2 449.52 279.0 449.67 261.1 449.82 238.6 449.97 225.9 450.12 228.9 450.27 229.2 450.42 228.1 450.58 215.6 450.73 212.6 450.88 217.3 451.03 237.2 451.18 260.2 451.33 262.6 451.48 266.5 451.63 275.8 451.79 314.4 451.94 347.8 452.09 347.8 452.24 306.8 452.39 272.4 452.54 271.8 452.69 282.7 452.84 262.6 452.99 212.6 453.15 170.0 453.30 167.1 453.45 158.6 453.60 169.3 453.75 198.1 453.90 231.5 454.05 273.1 454.20 309.1 454.36 347.7 454.51 337.6 454.66 311.4 454.81 292.3 454.96 302.9 455.11 316.3 455.26 327.7 455.41 335.6 455.57 363.5 455.72 347.7 455.87 311.5 456.02 286.4 456.17 276.6 456.32 286.9 456.47 285.1 456.62 274.9 456.78 267.5 456.93 272.7 457.08 271.9 457.23 265.9 457.38 263.0 457.53 244.5 457.68 250.7 457.83 263.7 457.99 285.8 458.14 297.6 458.29 330.1 458.44 343.7 458.59 337.5 458.74 334.7 458.89 322.2 459.04 295.9 459.20 274.2 459.35 274.6 459.50 273.9 459.65 273.0 459.80 274.8 459.95 281.7 460.10 272.6 460.25 263.0 460.40 259.5 460.56 257.0 460.71 268.8 460.86 268.2 461.01 265.2 461.16 285.3 461.31 284.5 461.46 271.5 461.61 275.4 461.77 292.8 461.92 306.8 462.07 317.2 462.22 318.6 462.37 332.8 462.52 317.1 462.67 292.9 462.82 277.9 462.98 267.2 463.13 266.7 463.28 267.9 463.43 297.5 463.58 324.9 463.73 320.2 463.88 315.5 464.03 314.7 464.19 334.7 464.34 360.7 464.49 348.5 464.64 323.1 464.79 296.3 464.94 275.9 465.09 253.2 465.24 251.4 465.40 268.1 465.55 288.0 465.70 282.9 465.85 273.2 466.00 265.2 466.15 279.0 466.30 287.9 466.45 280.0 466.61 260.6 466.76 243.2 466.91 226.4 467.06 222.7 467.21 239.9 467.36 240.8 467.51 228.1 467.66 235.3 467.81 257.6 467.97 256.8 468.12 261.4 468.27 281.5 468.42 286.5 468.57 262.8 468.72 240.3 468.87 232.2 469.02 243.7 469.18 244.7 469.33 246.1 469.48 246.8 469.63 243.0 469.78 246.9 469.93 256.3 470.08 262.0 470.23 285.1 470.39 294.8 470.54 314.1 470.69 340.9 470.84 345.3 470.99 332.7 471.14 309.8 471.29 308.2 471.44 305.1 471.60 312.6 471.75 329.4 471.90 351.3 472.05 356.3 472.20 335.2 472.35 311.8 472.50 316.8 472.65 334.2 472.81 342.9 472.96 346.2 473.11 339.2 473.26 346.6 473.41 352.4 473.56 361.0 473.71 351.4 473.86 315.3 474.02 300.0 474.17 316.5 474.32 337.6 474.47 339.4 474.62 322.8 474.77 328.9 474.92 330.2 475.07 350.7 475.22 360.4 475.38 343.4 475.53 324.7 475.68 319.6 475.83 307.8 475.98 290.6 476.13 259.5 476.28 202.1 476.43 166.3 476.59 162.0 476.74 217.6 476.89 260.6 477.04 308.1 477.19 346.8 477.34 354.9 477.49 322.7 477.64 315.4 477.80 315.5 477.95 321.3 478.10 332.9 478.25 355.2 478.40 369.0 478.55 371.8 478.70 363.2 478.85 342.8 479.01 321.0 479.16 286.4 479.31 276.9 479.46 269.6 479.61 274.6 479.76 272.8 479.91 280.8 480.06 285.7 480.22 279.9 480.37 276.9 480.52 284.3 480.67 306.7 480.82 317.8 480.97 318.3 481.12 310.4 481.27 312.8 481.43 321.1 481.58 330.5 481.73 329.2 481.88 316.2 482.03 310.5 482.18 310.3 482.33 311.0 482.48 299.5 482.63 292.8 482.79 285.1 482.94 286.5 483.09 300.9 483.24 313.0 483.39 320.2 483.54 322.9 483.69 327.7 483.84 318.1 484.00 310.2 484.15 319.4 484.30 335.8 484.45 334.9 484.60 332.0 484.75 325.7 484.90 326.9 485.05 336.4 485.21 336.8 485.36 332.9 485.51 309.5 485.66 313.0 485.81 306.5 485.96 308.2 486.11 325.2 486.26 359.3 486.42 376.6 486.57 347.8 486.72 323.2 486.87 308.1 487.02 303.5 487.17 292.8 487.32 290.1 487.47 285.1 487.63 285.2 487.78 294.4 487.93 311.7 488.08 315.3 488.23 332.0 488.38 348.2 488.53 328.7 488.68 296.7 488.84 302.6 488.99 329.0 489.14 357.8 489.29 377.1 489.44 394.5 489.59 387.1 489.74 382.2 489.89 380.8 490.04 381.5 490.20 376.6 490.35 374.3 490.50 369.9 490.65 366.6 490.80 357.4 490.95 352.9 491.10 362.2 491.25 364.8 491.41 382.7 491.56 399.6 491.71 399.8 491.86 373.3 492.01 360.2 492.16 378.0 492.31 412.9 492.46 408.1 492.62 381.7 492.77 357.0 492.92 360.3 493.07 349.1 493.22 322.2 493.37 310.7 493.52 290.9 493.67 275.3 493.83 257.4 493.98 243.0 494.13 240.4 494.28 229.6 494.43 223.5 494.58 223.3 494.73 231.3 494.88 232.0 495.04 236.9 495.19 244.3 495.34 254.5 495.49 278.9 495.64 299.4 495.79 300.5 495.94 210.0 496.09 309.0 496.25 335.1 496.40 341.8 496.55 314.7 496.70 276.6 496.85 260.5 497.00 258.7 497.15 250.7 497.30 249.0 497.45 251.0 497.61 250.2 497.76 258.2 497.91 268.5 498.06 273.6 498.21 313.9 498.36 335.2 498.51 323.0 498.66 301.9 498.82 278.2 498.97 207.0 499.12 243.7 499.27 233.8 499.42 222.6 499.57 226.6 499.72 233.3 499.87 276.5 500.03 290.6 500.18 287.5 500.33 286.7 500.48 286.1 500.63 291.5 500.78 307.4 500.93 294.0 501.08 261.7 501.24 252.0 501.39 249.3 501.54 249.4 501.69 249.6 501.84 258.0 501.99 260.4 502.14 259.4 502.29 259.0 502.45 250.3 502.60 244.7 502.75 245.7 502.90 248.1 503.05 255.6 503.20 263.5 503.35 275.7 503.50 296.7 503.66 300.6 503.81 290.1 503.96 273.5 504.11 258.4 504.26 250.8 504.41 231.0 504.56 228.7 504.71 224.3 504.86 229.4 505.02 222.5 505.17 226.8 505.32 240.7 505.47 250.0 505.62 260.8 505.77 285.1 505.92 313.8 506.07 318.6 506.23 316.8 506.38 316.8 506.53 318.4 506.68 312.6 506.83 318.3 506.98 378.0 507.13 327.0 507.28 311.1 507.44 285.0 507.59 260.0 507.74 250.7 507.89 259.6 508.04 264.2 508.19 241.4 508.34 228.4 508.49 235.8 508.65 245.9 508.80 261.1 508.95 259.3 509.10 250.2 509.25 254.8 509.40 286.4 509.55 316.9 509.70 318.1 509.86 317.7 510.01 315.8 510.16 317.2 510.31 315.4 510.46 316.0 510.61 319.7 510.76 315.3 510.91 322.2 511.07 324.6 511.22 323.0 511.37 297.8 511.52 263.5 511.67 257.9 511.82 262.3 511.97 260.7 512.12 262.5 512.27 265.9 512.43 259.9 512.58 241.6 512.73 217.3 512.88 203.4 513.03 207.5 513.18 204.2 513.33 197.0 513.48 204.6 513.64 178.6 513.79 156.2 513.94 123.4 514.09 128.1 514.24 133.6 514.39 145.4 514.54 147.7 514.69 152.7 514.85 151.6 515.00 167.9 515.15 173.8 515.30 169.6 515.45 164.3 515.60 109.0 515.75 169.9 515.90 173.5 516.06 181.5 516.21 173.7 516.36 174.0 516.51 170.1 516.66 157.2 516.81 158.9 516.96 168.1 517.11 164.6 517.27 162.4 517.42 164.7 517.57 168.1 517.72 175.7 517.87 176.6 518.02 178.9 518.17 171.4 518.32 155.0 518.48 155.0 518.63 173.8 518.78 189.8 518.93 183.8 519.08 185.0 519.23 173.2 519.38 167.0 519.53 170.3 519.69 164.3 519.84 158.7 519.99 153.8 520.14 164.4 520.29 180.3 520.44 185.4 520.59 122.0 520.74 190.3 520.89 185.7 521.05 188.3 521.20 189.7 521.35 189.4 521.50 189.6 521.65 208.0 521.80 229.1 521.95 264.0 522.10 274.2 522.26 275.3 522.41 272.3 522.56 274.5 522.71 271.7 522.86 271.6 523.01 268.8 523.16 270.8 523.31 272.7 523.47 285.6 523.62 284.0 523.77 266.1 523.92 239.2 524.07 232.3 524.22 239.6 524.37 244.2 524.52 251.1 524.68 257.0 524.83 257.8 524.98 263.3 525.13 247.0 525.28 252.4 525.43 285.1 525.58 311.5 525.73 302.8 525.89 274.5 526.04 266.7 526.19 287.3 526.34 297.5 526.49 301.1 526.64 286.4 526.79 272.5 526.94 274.0 527.10 279.9 527.25 275.2 527.40 274.1 527.55 272.7 527.70 256.2 527.85 238.7 528.00 225.4 528.15 237.7 528.30 249.4 528.46 254.3 528.61 271.3 528.76 283.4 528.91 288.5 529.06 292.0 529.21 300.1 529.36 277.3 529.51 255.9 529.67 245.1 529.82 248.5 529.97 256.9 530.12 262.4 530.27 275.0 530.42 280.8 530.57 272.6 530.72 254.2 530.88 257.8 531.03 279.1 531.18 301.1 531.33 287.1 531.48 264.0 531.63 258.1 531.78 261.0 531.93 263.3 532.09 257.8 532.24 234.6 532.39 225.6 532.54 222.8 532.69 220.3 532.84 224.3 532.99 242.6 533.14 247.5 533.30 259.8 533.45 261.0 533.60 252.6 533.75 266.3 533.90 276.8 534.05 283.3 534.20 284.1 534.35 282.8 534.51 295.5 534.66 323.5 534.81 333.3 534.96 327.1 535.11 314.7 535.26 309.8 535.41 296.8 535.56 278.1 535.71 288.4 535.87 308.3 536.02 327.0 536.17 304.4 536.32 288.6 536.47 280.4 536.62 289.4 536.77 295.4 536.92 301.0 537.08 308.8 537.23 317.1 537.38 319.5 537.53 336.4 537.68 333.3 537.83 333.7 537.98 339.9 538.13 333.8 538.29 308.6 538.44 306.4 538.59 297.6 538.74 297.4 538.89 292.8 539.04 292.8 539.19 294.7 539.34 289.6 539.50 268.7 539.65 263.0 539.80 273.4 539.95 278.7 540.10 274.0 540.25 272.2 540.40 270.3 540.55 283.0 540.71 297.8 540.86 306.3 541.01 289.5 541.16 273.4 541.31 283.4 541.46 299.8 541.61 300.1 541.76 290.4 541.92 279.2 542.07 261.2 542.22 232.4 542.37 211.8 542.52 217.6 542.67 238.0 542.82 253.1 542.97 244.3 543.12 230.5 543.28 225.0 543.43 219.0 543.58 204.0 543.73 203.4 543.88 213.2 544.03 202.0 544.18 220.3 544.33 214.9 544.49 235.3 544.64 264.6 544.79 285.4 544.94 271.2 545.09 253.8 545.24 238.0 545.39 230.1 545.54 227.2 545.70 244.0 545.85 253.6 546.00 272.3 546.15 258.5 546.30 234.0 546.45 228.7 546.60 238.0 546.75 234.1 546.91 241.2 547.06 244.3 547.21 246.3 547.36 263.8 547.51 286.7 547.66 302.5 547.81 311.3 547.96 326.2 548.12 324.1 548.27 315.9 548.42 299.2 548.57 275.6 548.72 250.2 548.87 232.8 549.02 206.0 549.17 265.1 549.33 270.8 549.48 261.4 549.63 265.9 549.78 270.8 549.93 252.2 550.08 257.6 550.23 284.9 550.38 307.0 550.53 308.5 550.69 300.1 550.84 299.3 550.99 313.8 551.14 324.3 551.29 317.0 551.44 310.2 551.59 303.8 551.74 302.0 551.90 294.1 552.05 297.7 552.20 299.5 552.35 286.8 552.50 288.5 552.65 304.5 552.80 305.9 552.95 290.4 553.11 271.2 553.26 270.6 553.41 288.9 553.56 308.6 553.71 312.7 553.86 326.4 554.01 343.2 554.16 332.2 554.32 317.5 554.47 313.8 554.62 308.5 554.77 299.7 554.92 301.7 555.07 325.7 555.22 333.5 555.37 337.3 555.53 337.7 555.68 343.6 555.83 349.0 555.98 347.3 556.13 337.5 556.28 329.0 556.43 320.0 556.58 323.4 556.74 328.4 556.89 326.3 557.04 332.2 557.19 342.0 557.34 334.2 557.49 322.3 557.64 325.0 557.79 334.6 557.94 349.7 558.10 356.3 558.25 338.3 558.40 341.2 558.55 356.9 558.70 384.1 558.85 386.0 559.00 383.3 559.15 372.5 559.31 361.9 559.46 353.3 559.61 340.2 559.76 329.7 559.91 303.1 560.06 300.7 560.21 327.3 560.36 340.1 560.52 335.6 560.67 323.4 560.82 325.0 560.97 339.1 561.12 359.1 561.27 355.7 561.42 361.3 561.57 349.6 561.73 361.2 561.88 359.5 562.03 355.8 562.18 349.2 562.33 335.3 562.48 337.1 562.63 346.5 562.78 357.1 562.94 366.3 563.09 384.4 563.24 391.0 563.39 388.3 563.54 375.7 563.69 367.3 563.84 357.2 563.99 343.9 564.15 330.6 564.30 316.8 564.45 314.0 564.60 309.7 564.75 299.7 564.90 310.0 565.05 329.5 565.20 343.6 565.35 345.8 565.51 351.7 565.66 354.5 565.81 368.3 565.96 382.5 566.11 374.9 566.26 365.6 566.41 358.6 566.56 370.8 566.72 382.9 566.87 380.6 567.02 355.4 567.17 336.2 567.32 325.4 567.47 317.0 567.62 312.3 567.77 320.1 567.93 330.2 568.08 320.1 568.23 304.3 568.38 287.8 568.53 291.9 568.68 305.5 568.83 303.4 568.98 262.5 569.14 215.7 569.29 203.9 569.44 207.2 569.59 204.6 569.74 187.0 569.89 168.1 570.04 153.7 570.19 160.8 570.35 166.0 570.50 157.5 570.65 149.3 570.80 162.0 570.95 163.6 571.10 171.9 571.25 155.7 571.40 152.0 571.56 151.4 571.71 147.1 571.86 151.1 572.01 152.2 572.16 149.5 572.31 82.0 572.46 169.2 572.61 165.2 572.76 162.9 572.92 161.6 573.07 160.9 573.22 146.3 573.37 153.8 573.52 150.0 573.67 158.2 573.82 182.5 573.97 192.8 574.13 172.4 574.28 153.0 574.43 125.2 574.58 123.6 574.73 135.7 574.88 161.9 575.03 109.0 575.18 192.2 575.34 188.8 575.49 172.1 575.64 172.1 575.79 143.8 575.94 131.8 576.09 120.8 576.24 119.0 576.39 113.1 576.55 107.7 576.70 137.2 576.85 159.5 577.00 170.4 577.15 171.2 577.30 163.5 577.45 152.3 577.60 152.0 577.76 195.5 577.91 253.5 578.06 282.8 578.21 279.4 578.36 266.4 578.51 277.6 578.66 283.1 578.81 283.3 578.97 285.8 579.12 284.4 579.27 274.6 579.42 245.3 579.57 225.0 579.72 242.1 579.87 273.7 580.02 298.6 580.18 289.3 580.33 280.4 580.48 287.5 580.63 282.5 580.78 280.2 580.93 292.2 581.08 314.5 581.23 315.7 581.38 287.4 581.54 261.3 581.69 256.0 581.84 246.0 581.99 240.2 582.14 258.7 582.29 280.2 582.44 292.0 582.59 289.1 582.75 289.2 582.90 291.5 583.05 312.9 583.20 317.2 583.35 176.0 583.50 256.9 583.65 240.0 583.80 193.5 583.96 166.3 584.11 163.4 584.26 170.6 584.41 177.8 584.56 213.0 584.71 251.4 584.86 272.9 585.01 276.1 585.17 281.6 585.32 277.5 585.47 272.2 585.62 276.0 585.77 293.6 585.92 316.0 586.07 319.5 586.22 301.9 586.38 280.7 586.53 278.7 586.68 283.4 586.83 280.4 586.98 243.8 587.13 207.3 587.28 207.9 587.43 236.7 587.59 263.1 587.74 287.0 587.89 299.5 588.04 317.5 588.19 321.9 588.34 322.4 588.49 327.3 588.64 306.6 588.79 293.2 588.95 284.5 589.10 290.7 589.25 282.1 589.40 275.6 589.55 279.0 589.70 274.9 589.85 268.4 590.00 274.1 590.16 264.4 590.31 247.2 590.46 246.2 590.61 267.1 590.76 283.0 590.91 275.1 591.06 258.2 591.21 245.0 591.37 252.7 591.52 265.1 591.67 269.3 591.82 280.2 591.97 287.8 592.12 289.2 592.27 292.2 592.42 293.1 592.58 290.8 592.73 273.6 592.88 273.2 593.03 285.5 593.18 297.9 593.33 366.0 593.48 290.4 593.63 276.6 593.79 286.7 593.94 274.4 594.09 285.5 594.24 294.5 594.39 307.1 594.54 300.2 594.69 284.5 594.84 270.7 595.00 255.6 595.15 235.1 595.30 242.3 595.45 257.2 595.60 277.7 595.75 303.4 595.90 328.1 596.05 348.7 596.20 351.6 596.36 344.8 596.51 336.0 596.66 318.8 596.81 302.9 596.96 290.3 597.11 262.3 597.26 258.3 597.41 257.5 597.57 258.0 597.72 263.6 597.87 268.4 598.02 268.0 598.17 286.6 598.32 313.4 598.47 314.1 598.62 301.7 598.78 290.3 598.93 300.3 599.08 305.4 599.23 311.9 599.38 301.2 599.53 293.8 599.68 290.5 599.83 283.0 599.99 284.2 600.14 276.8 600.29 264.0 600.44 260.6 600.59 288.6 600.74 305.6 600.89 307.8 601.04 293.9 601.20 283.4 601.35 272.3 601.50 249.5 601.65 246.5 601.80 267.4 601.95 286.2 602.10 297.3 602.25 302.1 602.41 308.1 602.56 313.9 602.71 312.1 602.86 319.0 603.01 316.2 603.16 322.1 603.31 324.6 603.46 306.1 603.61 312.2 603.77 315.0 603.92 329.0 604.07 332.5 604.22 327.1 604.37 320.3 604.52 308.9 604.67 274.5 604.82 264.6 604.98 269.5 605.13 283.4 605.28 280.0 605.43 283.8 605.58 290.4 605.73 293.4 605.88 308.1 606.03 309.5 606.19 300.1 606.34 301.4 606.49 297.9 606.64 298.8 606.79 300.3 606.94 282.4 607.09 276.0 607.24 265.7 607.40 259.3 607.55 257.4 607.70 259.2 607.85 267.8 608.00 274.7 608.15 272.4 608.30 267.1 608.45 273.0 608.61 269.0 608.76 266.0 608.91 270.2 609.06 276.1 609.21 286.4 609.36 286.9 609.51 263.1 609.66 262.1 609.82 257.7 609.97 263.0 610.12 259.2 610.27 240.6 610.42 223.6 610.57 225.5 610.72 231.7 610.87 237.7 611.02 226.1 611.18 234.3 611.33 228.8 611.48 248.1 611.63 247.6 611.78 236.6 611.93 189.0 612.08 227.2 612.23 233.6 612.39 241.0 612.54 266.2 612.69 294.4 612.84 311.7 612.99 291.2 613.14 280.1 613.29 271.7 613.44 271.0 613.60 263.0 613.75 266.4 613.90 285.0 614.05 283.6 614.20 276.9 614.35 269.7 614.50 237.5 614.65 177.0 614.81 175.0 614.96 213.5 615.11 242.3 615.26 270.1 615.41 318.9 615.56 347.5 615.71 334.7 615.86 317.0 616.02 303.9 616.17 312.8 616.32 326.1 616.47 321.9 616.62 286.1 616.77 250.5 616.92 241.7 617.07 251.0 617.23 258.6 617.38 257.8 617.53 262.1 617.68 281.5 617.83 309.6 617.98 331.3 618.13 339.7 618.28 343.4 618.43 339.5 618.59 333.2 618.74 326.9 618.89 326.7 619.04 349.8 619.19 357.5 619.34 348.8 619.49 312.5 619.64 288.8 619.80 297.5 619.95 296.8 620.10 280.8 620.25 276.3 620.40 273.8 620.55 268.4 620.70 263.9 620.85 273.6 621.01 286.5 621.16 297.2 621.31 311.3 621.46 326.8 621.61 328.2 621.76 322.5 621.91 316.6 622.06 310.2 622.22 323.3 622.37 342.4 622.52 339.5 622.67 332.5 622.82 336.6 622.97 321.4 623.12 298.8 623.27 304.0 623.43 318.3 623.58 330.7 623.73 335.3 623.88 346.6 624.03 354.8 624.18 350.7 624.33 353.1 624.48 356.7 624.64 352.9 624.79 349.9 624.94 361.3 625.09 367.3 625.24 370.2 625.39 346.8 625.54 337.8 625.69 335.6 625.84 350.5 626.00 367.6 626.15 359.8 626.30 342.7 626.45 336.6 626.60 361.0 626.75 386.9 626.90 393.9 627.05 391.3 627.21 398.4 627.36 396.4 627.51 391.9 627.66 392.2 627.81 389.3 627.96 371.7 628.11 385.6 628.26 411.7 628.42 431.1 628.57 414.4 628.72 389.7 628.87 388.0 629.02 411.3 629.17 418.9 629.32 415.5 629.47 405.4 629.63 402.6 629.78 402.1 629.93 399.3 630.08 417.3 630.23 430.2 630.38 433.6 630.53 431.8 630.68 424.2 630.84 421.8 630.99 447.3 631.14 467.1 631.29 465.9 631.44 457.7 631.59 471.0 631.74 451.0 631.89 455.0 632.05 456.8 632.20 454.6 632.35 459.8 632.50 454.7 632.65 455.4 632.80 458.6 632.95 455.9 633.10 445.5 633.25 449.0 633.41 444.5 633.56 442.6 633.71 441.7 633.86 443.2 634.01 457.4 634.16 422.5 634.31 379.7 634.46 348.3 634.62 297.2 634.77 247.8 634.92 224.4 635.07 205.8 635.22 175.4 635.37 153.1 635.52 115.8 635.67 116.9 635.83 122.5 635.98 122.2 636.13 120.8 636.28 91.0 636.43 111.2 636.58 106.7 636.73 116.1 636.88 121.4 637.04 115.5 637.19 114.3 637.34 122.2 637.49 125.6 637.64 124.2 637.79 134.5 637.94 141.6 638.09 139.6 638.25 119.8 638.40 111.5 638.55 107.8 638.70 109.6 638.85 101.9 639.00 95.0 639.15 95.5 639.30 99.2 639.46 108.4 639.61 107.8 639.76 113.4 639.91 115.3 640.06 124.6 640.21 114.7 640.36 108.5 640.51 113.4 640.67 136.0 640.82 150.9 640.97 158.9 641.12 170.0 641.27 181.4 641.42 202.2 641.57 215.1 641.72 220.6 641.87 228.0 642.03 236.2 642.18 256.0 642.33 276.0 642.48 275.5 642.63 261.3 642.78 256.7 642.93 274.7 643.08 307.5 643.24 316.7 643.39 327.8 643.54 328.0 643.69 315.3 643.84 282.8 643.99 256.3 644.14 271.6 644.29 288.6 644.45 294.8 644.60 275.9 644.75 261.4 644.90 264.5 645.05 288.9 645.20 308.8 645.35 283.3 645.50 250.7 645.66 239.7 645.81 251.9 645.96 257.0 646.11 273.7 646.26 310.4 646.41 329.6 646.56 329.7 646.71 333.0 646.87 334.5 647.02 338.8 647.17 339.5 647.32 332.9 647.47 315.7 647.62 316.5 647.77 312.6 647.92 319.1 648.08 322.0 648.23 321.1 648.38 321.4 648.53 328.8 648.68 350.5 648.83 366.4 648.98 362.6 649.13 359.2 649.28 358.6 649.44 367.3 649.59 365.3 649.74 354.7 649.89 332.4 650.04 325.0 650.19 330.8 650.34 345.3 650.49 351.2 650.65 364.4 650.80 378.6 650.95 396.2 651.10 409.8 651.25 413.2 651.40 410.5 651.55 410.1 651.70 404.8 651.86 377.9 652.01 365.0 652.16 386.9 652.31 420.9 652.46 402.0 652.61 426.1 652.76 421.5 652.91 408.9 653.07 385.6 653.22 379.0 653.37 367.0 653.52 349.5 653.67 348.8 653.82 365.6 653.97 375.1 654.12 376.2 654.28 370.9 654.43 374.1 654.58 351.6 654.73 312.8 654.88 316.7 655.03 335.6 655.18 343.1 655.33 341.5 655.49 345.3 655.64 346.6 655.79 353.3 655.94 364.6 656.09 365.6 656.24 346.6 656.39 341.0 656.54 350.8 656.69 349.3 656.85 347.6 657.00 345.2 657.15 344.0 657.30 343.1 657.45 345.6 657.60 340.8 657.75 360.9 657.90 385.8 658.06 381.5 658.21 374.0 658.36 361.4 658.51 334.3 658.66 310.8 658.81 290.4 658.96 262.5 659.11 253.2 659.27 248.0 659.42 248.4 659.57 246.3 659.72 243.2 659.87 230.1 660.02 227.3 660.17 238.5 660.32 253.6 660.48 246.2 660.63 254.3 660.78 252.5 660.93 255.7 661.08 254.9 661.23 257.9 661.38 253.5 661.53 253.1 661.69 259.1 661.84 271.6 661.99 277.2 662.14 278.5 662.29 283.3 662.44 279.0 662.59 271.9 662.74 270.4 662.90 265.0 663.05 265.9 663.20 263.3 663.35 274.8 663.50 282.2 663.65 280.2 663.80 285.1 663.95 292.2 664.10 288.2 664.26 271.2 664.41 264.0 664.56 269.1 664.71 270.0 664.86 186.0 665.01 267.3 665.16 249.8 665.31 251.6 665.47 252.0 665.62 249.6 665.77 263.1 665.92 274.9 666.07 278.9 666.22 279.1 666.37 282.2 666.52 274.6 666.68 261.8 666.83 254.0 666.98 241.4 667.13 232.7 667.28 220.4 667.43 219.8 667.58 221.9 667.73 225.8 667.89 244.5 668.04 255.0 668.19 253.2 668.34 255.4 668.49 247.7 668.64 211.2 668.79 190.2 668.94 202.3 669.10 230.3 669.25 243.1 669.40 271.4 669.55 287.3 669.70 305.3 669.85 308.0 670.00 303.6 670.15 300.3 670.31 294.3 670.46 295.8 670.61 305.5 670.76 317.3 670.91 321.9 671.06 327.6 671.21 335.2 671.36 322.1 671.51 306.4 671.67 296.6 671.82 295.7 671.97 294.6 672.12 288.7 672.27 275.3 672.42 258.6 672.57 232.2 672.72 214.0 672.88 203.8 673.03 211.9 673.18 225.6 673.33 215.1 673.48 191.4 673.63 195.2 673.78 203.1 673.93 227.4 674.09 226.4 674.24 229.1 674.39 229.8 674.54 222.3 674.69 200.3 674.84 194.8 674.99 203.0 675.14 209.0 675.30 209.6 675.45 214.6 675.60 229.3 675.75 231.9 675.90 260.5 676.05 264.6 676.20 268.9 676.35 275.4 676.51 262.4 676.66 252.3 676.81 247.5 676.96 250.5 677.11 264.7 677.26 272.1 677.41 264.0" stroke="#0000ff" stroke-width="1.5" fill="none" stroke-linejoin="round"/><path d="M58.60 273.0 58.75 274.7 58.90 277.0 59.05 280.1 59.20 283.2 59.36 285.6 59.51 281.9 59.66 271.0 59.81 260.1 59.96 249.2 60.11 238.3 60.26 227.4 60.41 216.5 60.57 205.6 60.72 194.7 60.87 183.8 61.02 172.9 61.17 162.0 61.32 151.1 61.47 140.2 61.62 129.3 61.78 118.3 61.93 107.4 62.08 104.4 62.23 109.3 62.38 114.4 62.53 115.9 62.68 108.6 62.83 97.6 62.99 91.3 63.14 98.2 63.29 114.5 63.44 127.8 63.59 129.1 63.74 126.3 63.89 122.5 64.04 120.5 64.20 120.5 64.35 121.3 64.50 122.3 64.65 120.0 64.80 124.2 64.95 136.4 65.10 151.4 65.25 165.6 65.41 181.2 65.56 185.2 65.71 168.4 65.86 153.7 66.01 139.6 66.16 126.7 66.31 118.0 66.46 121.4 66.61 120.8 66.77 118.4 66.92 116.2 67.07 114.7 67.22 107.9 67.37 99.8 67.52 96.7 67.67 95.6 67.82 93.7 67.98 92.6 68.13 95.5 68.28 103.1 68.43 109.6 68.58 150.9 68.73 232.2 68.88 271.4 69.03 270.6 69.19 270.0 69.34 269.8 69.49 268.0 69.64 264.6 69.79 260.4 69.94 256.2 70.09 252.8 70.24 250.1 70.40 248.9 70.55 248.8 70.70 249.1 70.85 250.0 71.00 251.1 71.15 252.3 71.30 253.2 71.45 253.6 71.61 253.6 71.76 253.4 71.91 252.9 72.06 252.2 72.21 251.2 72.36 249.8 72.51 248.4 72.66 247.5 72.82 247.1 72.97 246.9 73.12 246.7 73.27 246.4 73.42 246.2 73.57 246.0 73.72 245.5 73.87 246.2 74.02 248.5 74.18 252.1 74.33 256.7 74.48 261.9 74.63 266.3 74.78 268.9 74.93 268.6 75.08 266.7 75.23 264.2 75.39 261.3 75.54 258.3 75.69 255.4 75.84 252.7 75.99 251.2 76.14 256.8 76.29 263.7 76.44 270.7 76.60 277.6 76.75 284.6 76.90 291.5 77.05 298.5 77.20 305.4 77.35 312.4 77.50 316.7 77.65 314.3 77.81 312.2 77.96 311.1 78.11 311.2 78.26 310.1 78.41 306.5 78.56 301.2 78.71 295.2 78.86 289.5 79.02 285.2 79.17 283.3 79.32 280.9 79.47 280.3 79.62 278.5 79.77 272.6 79.92 260.7 80.07 259.4 80.23 275.2 80.38 290.8 80.53 303.7 80.68 311.4 80.83 310.5 80.98 297.9 81.13 286.9 81.28 279.2 81.43 277.0 81.59 280.7 81.74 288.5 81.89 299.1 82.04 311.0 82.19 322.6 82.34 331.6 82.49 335.8 82.64 333.4 82.80 326.1 82.95 315.9 83.10 304.5 83.25 293.6 83.40 284.6 83.55 278.9 83.70 277.9 83.85 280.3 84.01 285.5 84.16 292.1 84.31 298.5 84.46 303.8 84.61 307.0 84.76 307.5 84.91 306.2 85.06 303.6 85.22 300.1 85.37 296.1 85.52 290.6 85.67 275.9 85.82 263.6 85.97 251.9 86.12 240.1 86.27 228.2 86.43 237.4 86.58 251.5 86.73 265.5 86.88 278.9 87.03 293.3 87.18 307.0 87.33 318.8 87.48 333.3 87.64 348.4 87.79 360.7 87.94 367.7 88.09 368.3 88.24 366.5 88.39 363.6 88.54 360.1 88.69 356.7 88.84 353.7 89.00 351.7 89.15 351.1 89.30 346.8 89.45 338.6 89.60 328.1 89.75 317.1 89.90 307.2 90.05 300.2 90.21 297.7 90.36 301.3 90.51 310.7 90.66 323.7 90.81 337.8 90.96 350.6 91.11 360.0 91.26 364.4 91.42 362.1 91.57 353.3 91.72 340.3 91.87 325.1 92.02 307.5 92.17 281.7 92.32 263.5 92.47 251.2 92.63 239.7 92.78 227.6 92.93 237.0 93.08 251.9 93.23 268.2 93.38 285.2 93.53 301.6 93.68 312.4 93.84 319.8 93.99 329.3 94.14 315.3 94.29 296.8 94.44 278.4 94.59 259.9 94.74 241.5 94.89 223.0 95.05 204.6 95.20 186.1 95.35 167.7 95.50 149.2 95.65 130.7 95.80 111.2 95.95 112.2 96.10 112.5 96.26 112.5 96.41 112.5 96.56 112.9 96.71 114.1 96.86 115.9 97.01 117.2 97.16 116.8 97.31 115.4 97.46 113.9 97.62 113.5 97.77 125.1 97.92 136.7 98.07 148.2 98.22 159.8 98.37 171.4 98.52 183.0 98.67 194.6 98.83 206.2 98.98 217.8 99.13 229.4 99.28 238.2 99.43 239.9 99.58 241.4 99.73 242.9 99.88 244.2 100.04 245.2 100.19 246.5 100.34 251.1 100.49 258.5 100.64 267.6 100.79 277.5 100.94 286.8 101.09 293.4 101.25 295.5 101.40 293.1 101.55 287.3 101.70 280.2 101.85 273.1 102.00 266.8 102.15 262.4 102.30 260.6 102.46 260.1 102.61 259.1 102.76 258.0 102.91 257.5 103.06 257.2 103.21 256.7 103.36 256.4 103.51 255.8 103.67 253.8 103.82 250.3 103.97 246.1 104.12 242.0 104.27 238.9 104.42 237.9 104.57 240.0 104.72 243.0 104.87 245.7 105.03 247.2 105.18 247.9 105.33 248.4 105.48 248.8 105.63 249.3 105.78 253.1 105.93 259.8 106.08 268.4 106.24 277.7 106.39 286.7 106.54 293.9 106.69 297.5 106.84 297.0 106.99 293.6 107.14 288.3 107.29 282.2 107.45 276.4 107.60 271.9 107.75 269.7 107.90 270.8 108.05 271.1 108.20 264.4 108.35 257.7 108.50 251.1 108.66 244.4 108.81 237.7 108.96 231.0 109.11 224.4 109.26 217.7 109.41 211.0 109.56 204.3 109.71 197.6 109.87 191.0 110.02 184.3 110.17 177.6 110.32 170.9 110.47 164.3 110.62 160.6 110.77 159.8 110.92 158.8 111.08 158.0 111.23 156.2 111.38 154.7 111.53 162.5 111.68 186.5 111.83 210.5 111.98 234.5 112.13 258.5 112.28 282.5 112.44 306.5 112.59 330.6 112.74 354.6 112.89 378.6 113.04 395.5 113.19 393.5 113.34 393.4 113.49 393.8 113.65 394.5 113.80 395.3 113.95 396.2 114.10 397.0 114.25 397.6 114.40 397.7 114.55 398.3 114.70 400.3 114.86 403.3 115.01 406.1 115.16 408.2 115.31 409.7 115.46 410.3 115.61 409.2 115.76 407.3 115.91 408.4 116.07 411.5 116.22 417.7 116.37 427.3 116.52 436.3 116.67 424.1 116.82 411.8 116.97 399.1 117.12 386.2 117.28 373.0 117.43 370.5 117.58 370.2 117.73 370.7 117.88 375.0 118.03 382.9 118.18 392.4 118.33 401.7 118.49 409.3 118.64 414.5 118.79 416.3 118.94 415.5 119.09 414.8 119.24 414.1 119.39 413.3 119.54 412.6 119.69 411.9 119.85 411.8 120.00 411.8 120.15 409.2 120.30 404.3 120.45 397.7 120.60 390.1 120.75 382.8 120.90 377.5 121.06 375.7 121.21 375.5 121.36 375.5 121.51 375.5 121.66 375.4 121.81 375.0 121.96 374.1 122.11 373.1 122.27 374.1 122.42 377.8 122.57 383.8 122.72 391.3 122.87 398.9 123.02 400.9 123.17 386.0 123.32 371.1 123.48 356.2 123.63 341.3 123.78 326.4 123.93 311.5 124.08 296.6 124.23 281.7 124.38 266.8 124.53 251.9 124.69 237.1 124.84 222.2 124.99 207.3 125.14 192.4 125.29 177.5 125.44 162.6 125.59 147.7 125.74 132.8 125.90 117.9 126.05 110.7 126.20 118.0 126.35 127.5 126.50 131.4 126.65 128.5 126.80 124.8 126.95 122.5 127.10 120.1 127.26 111.2 127.41 102.3 127.56 102.0 127.71 115.0 127.86 131.1 128.01 138.4 128.16 130.4 128.31 115.3 128.47 104.2 128.62 107.3 128.77 121.7 128.92 135.5 129.07 138.6 129.22 138.5 129.37 138.1 129.52 137.8 129.68 133.8 129.83 127.6 129.98 123.7 130.13 123.2 130.28 122.4 130.43 122.5 130.58 122.3 130.73 119.9 130.89 130.0 131.04 145.5 131.19 165.4 131.34 182.7 131.49 195.1 131.64 183.7 131.79 166.6 131.94 146.6 132.10 131.0 132.25 122.4 132.40 125.5 132.55 127.2 132.70 131.5 132.85 137.9 133.00 141.1 133.15 139.2 133.31 135.5 133.46 133.3 133.61 131.0 133.76 121.1 133.91 110.9 134.06 109.0 134.21 117.3 134.36 128.2 134.51 133.3 134.67 134.1 134.82 135.0 134.97 135.8 135.12 133.8 135.27 126.0 135.42 118.0 135.57 116.0 135.72 121.7 135.88 129.9 136.03 134.1 136.18 133.5 136.33 131.5 136.48 130.1 136.63 128.4 136.78 123.9 136.93 119.8 137.09 118.6 137.24 120.2 137.39 122.6 137.54 130.1 137.69 149.4 137.84 168.6 137.99 187.8 138.14 207.0 138.30 226.2 138.45 245.4 138.60 264.6 138.75 283.9 138.90 303.1 139.05 322.3 139.20 341.5 139.35 360.7 139.51 377.6 139.66 378.5 139.81 379.9 139.96 380.5 140.11 379.6 140.26 377.8 140.41 375.7 140.56 374.0 140.72 373.2 140.87 373.3 141.02 374.9 141.17 377.7 141.32 381.1 141.47 384.6 141.62 387.3 141.77 388.9 141.92 388.9 142.08 387.2 142.23 384.4 142.38 380.9 142.53 377.2 142.68 373.7 142.83 371.0 142.98 369.9 143.13 370.5 143.29 371.5 143.44 372.7 143.59 373.8 143.74 375.3 143.89 376.7 144.04 377.7 144.19 378.2 144.34 379.1 144.50 380.1 144.65 381.3 144.80 382.7 144.95 384.4 145.10 386.1 145.25 387.2 145.40 388.7 145.55 390.7 145.71 392.2 145.86 393.0 146.01 393.2 146.16 393.2 146.31 393.1 146.46 393.0 146.61 392.6 146.76 391.9 146.92 390.9 147.07 389.5 147.22 388.5 147.37 388.1 147.52 387.9 147.67 386.7 147.82 385.2 147.97 384.0 148.13 383.2 148.28 382.5 148.43 381.8 148.58 381.8 148.73 383.5 148.88 386.5 149.03 390.3 149.18 394.4 149.34 397.6 149.49 399.6 149.64 399.7 149.79 397.8 149.94 393.9 150.09 388.8 150.24 384.2 150.39 379.7 150.54 375.1 150.70 370.6 150.85 366.0 151.00 361.5 151.15 356.9 151.30 338.5 151.45 314.5 151.60 292.2 151.75 271.7 151.91 252.9 152.06 248.3 152.21 263.6 152.36 277.3 152.51 289.3 152.66 299.5 152.81 306.9 152.96 302.4 153.12 297.9 153.27 293.3 153.42 288.8 153.57 288.3 153.72 291.6 153.87 294.1 154.02 295.3 154.17 293.2 154.33 287.9 154.48 280.9 154.63 273.8 154.78 268.2 154.93 265.8 155.08 266.8 155.23 270.2 155.38 273.3 155.54 275.8 155.69 278.2 155.84 280.5 155.99 282.4 156.14 283.9 156.29 284.3 156.44 285.4 156.59 287.5 156.75 290.8 156.90 295.1 157.05 299.6 157.20 303.2 157.35 305.4 157.50 308.0 157.65 311.2 157.80 314.7 157.95 318.4 158.11 321.8 158.26 324.8 158.41 326.5 158.56 325.2 158.71 320.7 158.86 314.2 159.01 306.9 159.16 300.4 159.32 295.7 159.47 293.9 159.62 295.3 159.77 298.2 159.92 302.0 160.07 306.4 160.22 310.8 160.37 314.8 160.53 317.6 160.68 319.3 160.83 324.7 160.98 333.3 161.13 343.4 161.28 353.9 161.43 363.1 161.58 369.5 161.74 371.7 161.89 373.4 162.04 376.0 162.19 378.9 162.34 381.7 162.49 383.9 162.64 384.9 162.79 385.0 162.95 383.5 163.10 380.0 163.25 375.3 163.40 370.0 163.55 365.0 163.70 361.1 163.85 359.6 164.00 361.0 164.16 363.4 164.31 365.9 164.46 368.0 164.61 369.2 164.76 369.7 164.91 369.7 165.06 369.5 165.21 369.1 165.36 369.0 165.52 369.2 165.67 369.5 165.82 369.6 165.97 369.3 166.12 368.9 166.27 366.1 166.42 360.3 166.57 353.0 166.73 345.7 166.88 339.2 167.03 334.7 167.18 333.2 167.33 333.6 167.48 332.6 167.63 330.7 167.78 328.5 167.94 326.8 168.09 326.1 168.24 326.9 168.39 328.8 168.54 322.7 168.69 302.2 168.84 281.7 168.99 261.2 169.15 240.7 169.30 220.1 169.45 199.6 169.60 193.4 169.75 203.5 169.90 216.4 170.05 229.9 170.20 241.9 170.36 250.2 170.51 252.8 170.66 251.3 170.81 248.5 170.96 245.6 171.11 243.1 171.26 241.0 171.41 239.1 171.57 237.6 171.72 237.7 171.87 239.6 172.02 242.7 172.17 246.3 172.32 249.4 172.47 251.0 172.62 251.1 172.77 248.8 172.93 241.0 173.08 228.9 173.23 214.6 173.38 199.9 173.53 187.0 173.68 178.1 173.83 176.1 173.98 180.1 174.14 187.6 174.29 196.6 174.44 205.5 174.59 213.3 174.74 218.6 174.89 220.2 175.04 219.0 175.19 216.2 175.35 212.3 175.50 208.1 175.65 204.5 175.80 202.2 175.95 200.9 176.10 197.1 176.25 187.4 176.40 177.8 176.56 168.1 176.71 158.4 176.86 148.7 177.01 139.0 177.16 129.4 177.31 119.7 177.46 110.0 177.61 105.4 177.77 107.6 177.92 109.8 178.07 110.3 178.22 107.7 178.37 104.4 178.52 103.1 178.67 106.0 178.82 110.5 178.98 113.0 179.13 111.7 179.28 109.5 179.43 108.9 179.58 110.2 179.73 109.5 179.88 107.4 180.03 106.0 180.18 105.4 180.34 104.7 180.49 104.1 180.64 106.9 180.79 114.0 180.94 119.8 181.09 120.5 181.24 120.0 181.39 119.3 181.55 119.4 181.70 119.9 181.85 120.5 182.00 120.8 182.15 148.1 182.30 176.6 182.45 205.1 182.60 233.6 182.76 262.1 182.91 290.6 183.06 319.1 183.21 347.6 183.36 376.1 183.51 404.7 183.66 404.4 183.81 403.2 183.97 401.8 184.12 400.6 184.27 399.6 184.42 398.5 184.57 397.6 184.72 397.1 184.87 397.2 185.02 397.3 185.18 397.4 185.33 372.5 185.48 342.6 185.63 312.3 185.78 281.6 185.93 250.7 186.08 252.7 186.23 282.6 186.39 313.5 186.54 345.1 186.69 376.9 186.84 400.6 186.99 401.0 187.14 401.9 187.29 403.2 187.44 404.7 187.59 405.9 187.75 407.0 187.90 408.3 188.05 409.5 188.20 409.7 188.35 408.0 188.50 404.7 188.65 400.7 188.80 396.7 188.96 393.5 189.11 391.6 189.26 391.2 189.41 391.9 189.56 393.4 189.71 395.5 189.86 397.7 190.01 399.6 190.17 400.9 190.32 401.4 190.47 401.7 190.62 401.8 190.77 401.8 190.92 401.9 191.07 383.2 191.22 336.6 191.38 289.9 191.53 243.3 191.68 196.6 191.83 150.0 191.98 103.3 192.13 95.5 192.28 94.4 192.43 93.4 192.59 93.4 192.74 94.2 192.89 112.8 193.04 136.1 193.19 134.9 193.34 133.4 193.49 132.0 193.64 131.7 193.80 133.0 193.95 136.1 194.10 140.2 194.25 144.8 194.40 149.1 194.55 152.5 194.70 154.6 194.85 156.5 195.00 158.5 195.16 160.7 195.31 162.7 195.46 164.9 195.61 167.4 195.76 169.7 195.91 171.4 196.06 171.8 196.21 171.7 196.37 171.4 196.52 171.1 196.67 171.0 196.82 171.4 196.97 172.3 197.12 173.3 197.27 174.6 197.42 176.2 197.58 177.4 197.73 178.1 197.88 178.6 198.03 179.4 198.18 180.3 198.33 181.7 198.48 183.2 198.63 184.5 198.79 185.1 198.94 185.6 199.09 186.9 199.24 189.0 199.39 191.5 199.54 194.1 199.69 196.4 199.84 198.2 200.00 199.8 200.15 201.3 200.30 202.6 200.45 203.8 200.60 204.9 200.75 206.1 200.90 207.5 201.05 209.2 201.21 211.1 201.36 212.8 201.51 213.1 201.66 211.9 201.81 209.4 201.96 206.5 202.11 204.1 202.26 202.9 202.41 203.9 202.57 207.6 202.72 213.0 202.87 219.0 203.02 224.6 203.17 229.7 203.32 234.4 203.47 237.8 203.62 240.1 203.78 242.9 203.93 245.5 204.08 246.3 204.23 250.2 204.38 254.0 204.53 242.5 204.68 227.4 204.83 210.9 204.99 192.9 205.14 173.5 205.29 177.3 205.44 199.6 205.59 223.4 205.74 248.6 205.89 275.2 206.04 296.0 206.20 294.0 206.35 292.2 206.50 291.2 206.65 291.7 206.80 293.6 206.95 295.5 207.10 296.0 207.25 295.0 207.41 293.0 207.56 290.8 207.71 289.0 207.86 288.3 208.01 288.7 208.16 289.4 208.31 290.4 208.46 291.9 208.62 293.9 208.77 295.8 208.92 297.0 209.07 297.2 209.22 297.0 209.37 296.8 209.52 296.6 209.67 296.6 209.82 296.6 209.98 296.7 210.13 297.2 210.28 298.1 210.43 298.8 210.58 299.2 210.73 299.0 210.88 298.9 211.03 299.0 211.19 299.5 211.34 300.6 211.49 302.4 211.64 304.1 211.79 305.9 211.94 307.7 212.09 309.5 212.24 311.4 212.40 312.8 212.55 312.5 212.70 310.5 212.85 306.9 213.00 299.7 213.15 306.1 213.30 312.5 213.45 318.9 213.61 325.4 213.76 331.8 213.91 338.2 214.06 344.6 214.21 349.5 214.36 332.6 214.51 313.4 214.66 291.7 214.82 267.7 214.97 241.2 215.12 257.8 215.27 289.1 215.42 322.9 215.57 359.1 215.72 397.7 215.87 421.4 216.03 427.9 216.18 434.3 216.33 440.7 216.48 447.1 216.63 450.5 216.78 452.8 216.93 453.5 217.08 452.5 217.24 450.6 217.39 448.4 217.54 446.5 217.69 445.4 217.84 445.3 217.99 444.4 218.14 442.4 218.29 439.8 218.44 436.9 218.60 434.4 218.75 432.6 218.90 431.9 219.05 433.4 219.20 437.0 219.35 441.5 219.50 446.4 219.65 451.1 219.81 455.1 219.96 458.0 220.11 459.4 220.26 459.8 220.41 459.1 220.56 457.1 220.71 455.1 220.86 453.5 221.02 452.6 221.17 452.7 221.32 453.4 221.47 454.2 221.62 455.2 221.77 456.4 221.92 457.6 222.07 458.3 222.23 458.2 222.38 458.9 222.53 456.6 222.68 439.4 222.83 422.2 222.98 405.0 223.13 387.8 223.28 370.6 223.44 353.4 223.59 336.2 223.74 319.0 223.89 301.8 224.04 284.6 224.19 267.3 224.34 250.1 224.49 232.9 224.65 215.7 224.80 198.5 224.95 181.3 225.10 164.1 225.25 146.9 225.40 129.7 225.55 121.6 225.70 127.2 225.85 134.8 226.01 138.0 226.16 138.9 226.31 141.7 226.46 144.1 226.61 142.6 226.76 135.5 226.91 128.6 227.06 126.8 227.22 121.4 227.37 114.5 227.52 111.6 227.67 107.9 227.82 101.5 227.97 96.7 228.12 99.5 228.27 110.6 228.43 121.0 228.58 122.9 228.73 120.9 228.88 118.0 229.03 116.8 229.18 123.6 229.33 134.3 229.48 140.3 229.64 133.2 229.79 117.0 229.94 103.7 230.09 102.0 230.24 101.8 230.39 101.8 230.54 101.8 230.69 99.1 230.85 95.1 231.00 93.0 231.15 93.8 231.30 95.9 231.45 98.1 231.60 103.9 231.75 120.5 231.90 136.4 232.06 140.3 232.21 141.2 232.36 142.6 232.51 143.0 232.66 133.4 232.81 116.3 232.96 104.3 233.11 102.5 233.26 99.1 233.42 95.5 233.57 95.5 233.72 105.3 233.87 117.6 234.02 123.5 234.17 119.9 234.32 116.4 234.47 112.8 234.63 118.6 234.78 130.7 234.93 141.3 235.08 145.4 235.23 154.3 235.38 163.5 235.53 166.6 235.68 163.3 235.84 158.8 235.99 156.9 236.14 152.3 236.29 139.8 236.44 130.1 236.59 132.1 236.74 142.3 236.89 153.1 237.05 156.8 237.20 151.2 237.35 142.6 237.50 137.6 237.65 143.9 237.80 157.4 237.95 167.9 238.10 165.9 238.26 153.1 238.41 140.9 238.56 140.7 238.71 156.6 238.86 176.4 239.01 186.2 239.16 184.6 239.31 180.3 239.47 177.4 239.62 179.8 239.77 186.3 239.92 192.2 240.07 191.9 240.22 179.3 240.37 164.6 240.52 160.4 240.67 173.7 240.83 193.7 240.98 206.6 241.13 204.1 241.28 194.5 241.43 186.5 241.58 184.5 241.73 176.3 241.88 166.9 242.04 164.4 242.19 173.3 242.34 186.6 242.49 195.1 242.64 192.5 242.79 184.1 242.94 177.3 243.09 188.0 243.25 206.1 243.40 224.2 243.55 242.3 243.70 260.4 243.85 278.5 244.00 296.1 244.15 298.7 244.30 298.1 244.46 294.0 244.61 287.5 244.76 279.9 244.91 272.5 245.06 266.7 245.21 263.5 245.36 263.3 245.51 261.9 245.67 258.6 245.82 253.6 245.97 247.6 246.12 241.8 246.27 237.5 246.42 236.2 246.57 239.8 246.72 247.8 246.88 258.0 247.03 268.5 247.18 277.1 247.33 282.6 247.48 284.2 247.63 284.6 247.78 289.3 247.93 297.7 248.08 308.2 248.24 318.8 248.39 327.2 248.54 331.4 248.69 331.2 248.84 330.4 248.99 329.7 249.14 329.3 249.29 329.4 249.45 329.3 249.60 329.0 249.75 328.6 249.90 326.9 250.05 324.1 250.20 320.4 250.35 316.6 250.50 313.1 250.66 310.7 250.81 310.2 250.96 312.3 251.11 316.9 251.26 322.8 251.41 329.0 251.56 334.9 251.71 339.5 251.87 341.7 252.02 339.1 252.17 328.9 252.32 313.8 252.47 296.4 252.62 279.3 252.77 265.1 252.92 256.7 253.08 255.2 253.23 253.8 253.38 251.4 253.53 248.4 253.68 244.9 253.83 241.7 253.98 239.5 254.13 238.9 254.29 242.1 254.44 248.5 254.59 256.6 254.74 264.7 254.89 271.4 255.04 275.9 255.19 277.4 255.34 275.9 255.49 272.7 255.65 268.6 255.80 263.9 255.95 259.5 256.10 247.8 256.25 236.5 256.40 225.1 256.55 218.3 256.70 215.3 256.86 212.4 257.01 210.1 257.16 208.2 257.31 207.2 257.46 207.4 257.61 210.9 257.76 217.2 257.91 225.1 258.07 233.4 258.22 240.6 258.37 245.6 258.52 247.8 258.67 251.3 258.82 258.0 258.97 266.2 259.12 274.3 259.28 281.4 259.43 286.3 259.58 288.2 259.73 287.2 259.88 284.1 260.03 279.7 260.18 274.6 260.33 246.0 260.49 216.6 260.64 189.5 260.79 163.5 260.94 137.5 261.09 141.6 261.24 163.7 261.39 183.8 261.54 202.2 261.70 219.9 261.85 233.2 262.00 240.5 262.15 254.5 262.30 272.7 262.45 292.5 262.60 310.8 262.75 323.6 262.90 327.9 263.06 328.9 263.21 330.9 263.36 304.0 263.51 276.3 263.66 246.4 263.81 213.8 263.96 178.5 264.11 197.0 264.27 229.0 264.42 253.4 264.57 269.0 264.72 276.8 264.87 271.6 265.02 261.4 265.17 258.7 265.32 251.8 265.48 239.9 265.63 225.3 265.78 210.3 265.93 197.4 266.08 188.8 266.23 186.8 266.38 186.7 266.53 185.9 266.69 184.5 266.84 182.6 266.99 180.2 267.14 178.0 267.29 176.7 267.44 183.9 267.59 205.3 267.74 235.6 267.90 269.4 268.05 301.4 268.20 326.2 268.35 338.6 268.50 334.7 268.65 316.1 268.80 288.4 268.95 256.4 269.11 224.6 269.26 197.9 269.41 181.2 269.56 179.3 269.71 191.0 269.86 212.1 270.01 238.1 270.16 264.7 270.31 287.9 270.47 304.3 270.62 309.7 270.77 308.2 270.92 304.6 271.07 303.3 271.22 305.9 271.37 308.4 271.52 309.4 271.68 308.1 271.83 306.3 271.98 301.3 272.13 294.5 272.28 302.9 272.43 327.8 272.58 356.8 272.73 388.8 272.89 422.2 273.04 439.0 273.19 410.6 273.34 386.7 273.49 367.6 273.64 351.9 273.79 336.7 273.94 336.4 274.10 327.9 274.25 312.2 274.40 292.8 274.55 272.6 274.70 254.6 274.85 241.6 275.00 236.9 275.15 237.7 275.31 239.9 275.46 242.9 275.61 246.1 275.76 249.1 275.91 251.3 276.06 252.1 276.21 252.9 276.36 257.3 276.52 267.4 276.67 303.7 276.82 336.6 276.97 365.8 277.12 392.1 277.27 417.0 277.42 402.2 277.57 375.5 277.73 344.1 277.88 307.5 278.03 267.0 278.18 244.5 278.33 243.0 278.48 250.3 278.63 265.4 278.78 284.7 278.93 305.1 279.09 323.7 279.24 337.5 279.39 343.6 279.54 328.0 279.69 280.8 279.84 233.6 279.99 186.4 280.14 175.7 280.30 165.4 280.45 159.3 280.60 158.0 280.75 156.9 280.90 155.9 281.05 154.9 281.20 154.0 281.35 153.0 281.51 151.8 281.66 150.5 281.81 148.4 281.96 145.7 282.11 143.5 282.26 142.2 282.41 141.8 282.56 142.0 282.72 142.7 282.87 142.9 283.02 140.3 283.17 136.0 283.32 127.6 283.47 114.7 283.62 103.5 283.77 123.5 283.93 143.3 284.08 161.8 284.23 178.1 284.38 191.5 284.53 188.5 284.68 183.6 284.83 180.7 284.98 181.0 285.14 184.3 285.29 189.2 285.44 194.7 285.59 199.4 285.74 202.2 285.89 203.0 286.04 202.9 286.19 201.2 286.34 199.6 286.50 197.9 286.65 196.3 286.80 226.7 286.95 274.8 287.10 323.5 287.25 372.8 287.40 422.8 287.55 436.7 287.71 385.5 287.86 333.7 288.01 281.3 288.16 228.3 288.31 178.3 288.46 176.7 288.61 175.1 288.76 173.4 288.92 171.8 289.07 170.2 289.22 168.5 289.37 166.9 289.52 165.3 289.67 163.6 289.82 162.0 289.97 160.4 290.13 158.7 290.28 179.4 290.43 222.3 290.58 265.8 290.73 309.9 290.88 354.6 291.03 380.1 291.18 334.2 291.34 287.6 291.49 240.4 291.64 192.6 291.79 144.2 291.94 139.1 292.09 137.5 292.24 134.2 292.39 127.2 292.55 120.7 292.70 114.9 292.85 109.6 293.00 105.0 293.15 108.9 293.30 112.3 293.45 115.1 293.60 117.2 293.75 118.7 293.91 117.9 294.06 116.3 294.21 114.6 294.36 113.0 294.51 111.4 294.66 109.7 294.81 108.1 294.96 106.5 295.12 104.8 295.27 103.2 295.42 101.6 295.57 99.9 295.72 98.3 295.87 96.7 296.02 91.7 296.17 100.7 296.33 116.1 296.48 127.0 296.63 124.1 296.78 111.9 296.93 100.2 297.08 99.0 297.23 106.4 297.38 114.9 297.54 117.5 297.69 110.6 297.84 100.6 297.99 95.2 298.14 98.4 298.29 105.2 298.44 111.2 298.59 114.8 298.75 124.0 298.90 133.0 299.05 134.3 299.20 121.5 299.35 104.2 299.50 95.7 299.65 103.2 299.80 117.2 299.96 126.8 300.11 122.0 300.26 106.0 300.41 91.2 300.56 89.1 300.71 103.1 300.86 120.9 301.01 128.7 301.16 128.0 301.32 126.9 301.47 126.2 301.62 123.4 301.77 115.2 301.92 108.6 302.07 109.3 302.22 113.8 302.37 118.1 302.53 119.4 302.68 117.1 302.83 113.6 302.98 111.5 303.13 109.2 303.28 102.7 303.43 96.4 303.58 94.7 303.74 96.8 303.89 100.3 304.04 102.7 304.19 105.4 304.34 108.5 304.49 110.1 304.64 113.4 304.79 120.5 304.95 125.6 305.10 122.1 305.25 108.7 305.40 95.5 305.55 110.6 305.70 163.5 305.85 216.3 306.00 269.2 306.16 322.0 306.31 374.9 306.46 427.8 306.61 441.5 306.76 444.0 306.91 446.2 307.06 448.2 307.21 450.0 307.37 451.0 307.52 451.9 307.67 453.0 307.82 453.8 307.97 454.2 308.12 452.9 308.27 448.1 308.42 441.5 308.57 434.6 308.73 428.9 308.88 425.2 309.03 423.8 309.18 425.0 309.33 428.4 309.48 432.8 309.63 437.5 309.78 441.9 309.94 445.6 310.09 448.3 310.24 449.6 310.39 450.6 310.54 451.4 310.69 451.5 310.84 450.4 310.99 448.0 311.15 445.2 311.30 442.8 311.45 440.6 311.60 438.1 311.75 434.7 311.90 431.0 312.05 427.5 312.20 424.7 312.36 423.9 312.51 425.5 312.66 428.2 312.81 431.2 312.96 433.5 313.11 434.9 313.26 435.6 313.41 435.8 313.57 435.5 313.72 436.3 313.87 438.4 314.02 441.0 314.17 443.4 314.32 444.9 314.47 445.5 314.62 445.7 314.78 446.3 314.93 447.5 315.08 449.2 315.23 450.9 315.38 452.2 315.53 453.2 315.68 453.6 315.83 452.5 315.98 449.1 316.14 444.6 316.29 420.6 316.44 384.4 316.59 350.9 316.74 319.3 316.89 288.5 317.04 275.8 317.19 308.5 317.35 342.0 317.50 376.2 317.65 410.6 317.80 444.7 317.95 444.5 318.10 444.3 318.25 444.6 318.40 445.6 318.56 447.4 318.71 448.7 318.86 449.1 319.01 448.7 319.16 448.1 319.31 447.8 319.46 447.6 319.61 447.5 319.77 447.3 319.92 447.1 320.07 447.0 320.22 447.4 320.37 448.2 320.52 449.2 320.67 450.3 320.82 452.0 320.98 453.8 321.13 455.2 321.28 455.5 321.43 453.7 321.58 450.1 321.73 445.8 321.88 441.7 322.03 438.0 322.19 421.7 322.34 405.5 322.49 389.2 322.64 373.0 322.79 356.7 322.94 340.4 323.09 324.2 323.24 307.9 323.39 291.6 323.55 275.4 323.70 259.1 323.85 242.9 324.00 226.6 324.15 210.3 324.30 194.1 324.45 177.8 324.60 161.6 324.76 145.3 324.91 129.0 325.06 120.8 325.21 123.3 325.36 127.0 325.51 128.6 325.66 128.1 325.81 127.4 325.97 127.1 326.12 127.8 326.27 128.6 326.42 129.5 326.57 130.2 326.72 131.0 326.87 131.6 327.02 131.7 327.18 137.5 327.33 147.0 327.48 152.8 327.63 150.6 327.78 144.9 327.93 139.6 328.08 135.2 328.23 119.8 328.39 103.6 328.54 99.3 328.69 115.8 328.84 139.5 328.99 152.6 329.14 141.8 329.29 118.0 329.44 99.9 329.60 99.3 329.75 100.4 329.90 100.9 330.05 101.8 330.20 116.1 330.35 135.7 330.50 145.3 330.65 137.2 330.81 121.9 330.96 110.8 331.11 108.0 331.26 102.4 331.41 97.4 331.56 97.5 331.71 101.2 331.86 105.0 332.01 105.7 332.17 109.3 332.32 116.4 332.47 121.2 332.62 125.0 332.77 135.6 332.92 145.6 333.07 153.9 333.22 171.0 333.38 188.1 333.53 203.3 333.68 196.1 333.83 187.9 333.98 180.4 334.13 174.2 334.28 170.5 334.43 170.6 334.59 173.6 334.74 178.3 334.89 184.1 335.04 190.2 335.19 195.9 335.34 200.3 335.49 202.1 335.64 199.9 335.80 193.9 335.95 186.0 336.10 178.0 336.25 171.4 336.40 167.0 336.55 165.7 336.70 168.4 336.85 175.5 337.01 185.6 337.16 197.3 337.31 209.2 337.46 219.7 337.61 226.6 337.76 228.7 337.91 229.3 338.06 229.5 338.22 229.9 338.37 231.1 338.52 232.7 338.67 234.3 338.82 235.5 338.97 232.7 339.12 225.2 339.27 215.3 339.42 205.2 339.58 196.9 339.73 191.4 339.88 189.9 340.03 190.4 340.18 188.6 340.33 185.5 340.48 182.4 340.63 179.7 340.79 177.7 340.94 176.7 341.09 184.4 341.24 200.5 341.39 216.6 341.54 232.7 341.69 248.8 341.84 264.9 342.00 281.1 342.15 280.6 342.30 281.5 342.45 283.3 342.60 286.0 342.75 288.8 342.90 291.2 343.05 292.7 343.21 292.6 343.36 292.9 343.51 294.9 343.66 298.2 343.81 302.9 343.96 308.3 344.11 313.2 344.26 316.3 344.42 316.1 344.57 313.1 344.72 308.5 344.87 303.3 345.02 298.1 345.17 293.5 345.32 289.3 345.47 285.9 345.63 279.5 345.78 271.1 345.93 262.7 346.08 254.6 346.23 247.9 346.38 243.6 346.53 242.6 346.68 248.4 346.83 260.1 346.99 275.2 347.14 291.0 347.29 304.9 347.44 314.6 347.59 317.9 347.74 313.9 347.89 304.2 348.04 291.6 348.20 278.2 348.35 265.7 348.50 255.7 348.65 250.0 348.80 250.6 348.95 257.3 349.10 268.3 349.25 281.9 349.41 295.9 349.56 307.2 349.71 313.8 349.86 314.0 350.01 308.5 350.16 299.4 350.31 288.4 350.46 277.1 350.62 266.9 350.77 259.5 350.92 257.2 351.07 258.4 351.22 260.8 351.37 263.9 351.52 266.9 351.67 269.3 351.83 270.8 351.98 271.2 352.13 272.7 352.28 278.4 352.43 286.9 352.58 296.5 352.73 305.5 352.88 312.6 353.04 314.1 353.19 312.0 353.34 309.8 353.49 307.6 353.64 301.0 353.79 291.1 353.94 282.6 354.09 277.4 354.24 277.0 354.40 278.2 354.55 279.4 354.70 280.7 354.85 282.0 355.00 283.4 355.15 285.3 355.30 287.3 355.45 290.8 355.61 296.2 355.76 302.7 355.91 309.5 356.06 315.9 356.21 321.1 356.36 324.4 356.51 325.9 356.66 328.6 356.82 332.2 356.97 336.5 357.12 341.2 357.27 346.0 357.42 349.8 357.57 352.3 357.72 354.6 357.87 356.3 358.03 357.5 358.18 358.6 358.33 360.0 358.48 362.3 358.63 364.8 358.78 366.6 358.93 367.4 359.08 366.9 359.24 365.1 359.39 362.7 359.54 360.6 359.69 359.8 359.84 361.6 359.99 366.0 360.14 372.0 360.29 378.4 360.45 384.2 360.60 388.5 360.75 390.6 360.90 390.1 361.05 386.5 361.20 381.1 361.35 375.2 361.50 369.5 361.65 365.0 361.81 362.7 361.96 363.5 362.11 368.4 362.26 376.1 362.41 385.2 362.56 394.2 362.71 402.0 362.86 407.8 363.02 410.5 363.17 407.4 363.32 398.8 363.47 387.0 363.62 374.0 363.77 362.0 363.92 353.2 364.07 349.5 364.23 350.0 364.38 351.1 364.53 352.9 364.68 355.6 364.83 359.1 364.98 362.5 365.13 365.3 365.28 367.4 365.44 371.2 365.59 376.0 365.74 381.4 365.89 386.9 366.04 389.7 366.19 378.4 366.34 367.1 366.49 355.9 366.65 352.9 366.80 349.6 366.95 345.7 367.10 342.0 367.25 339.2 367.40 337.8 367.55 338.9 367.70 341.9 367.86 346.1 368.01 350.9 368.16 355.8 368.31 360.3 368.46 363.3 368.61 364.3 368.76 364.4 368.91 363.3 369.06 361.7 369.22 360.3 369.37 359.2 369.52 358.3 369.67 357.7 369.82 356.3 369.97 354.2 370.12 351.9 370.27 349.6 370.43 348.0 370.58 347.2 370.73 347.3 370.88 349.1 371.03 352.1 371.18 355.1 371.33 357.7 371.48 359.8 371.64 361.4 371.79 362.2 371.94 360.9 372.09 353.4 372.24 338.2 372.39 323.0 372.54 307.9 372.69 303.9 372.85 301.4 373.00 300.5 373.15 298.2 373.30 295.3 373.45 292.2 373.60 289.1 373.75 286.3 373.90 284.0 374.06 283.4 374.21 283.6 374.36 284.3 374.51 285.3 374.66 286.4 374.81 287.4 374.96 288.1 375.11 288.3 375.27 290.5 375.42 295.5 375.57 302.3 375.72 309.7 375.87 316.7 376.02 322.6 376.17 326.3 376.32 327.8 376.47 329.4 376.63 330.5 376.78 330.4 376.93 329.5 377.08 328.4 377.23 327.5 377.38 326.7 377.53 322.3 377.68 314.8 377.84 305.1 377.99 294.3 378.14 284.0 378.29 276.6 378.44 274.2 378.59 277.6 378.74 285.4 378.89 295.6 379.05 306.4 379.20 316.1 379.35 323.2 379.50 326.0 379.65 326.8 379.80 328.7 379.95 331.0 380.10 333.1 380.26 334.4 380.41 334.5 380.56 333.8 380.71 331.7 380.86 327.2 381.01 320.6 381.16 312.8 381.31 305.1 381.47 298.8 381.62 295.1 381.77 294.8 381.92 295.5 382.07 293.0 382.22 282.7 382.37 272.4 382.52 261.4 382.68 261.4 382.83 261.1 382.98 258.9 383.13 254.7 383.28 249.1 383.43 243.0 383.58 237.1 383.73 232.8 383.88 231.5 384.04 233.6 384.19 238.2 384.34 243.9 384.49 249.9 384.64 255.7 384.79 260.2 384.94 262.8 385.09 262.9 385.25 262.2 385.40 261.1 385.55 260.1 385.70 259.3 385.85 259.2 386.00 259.7 386.15 260.6 386.30 262.1 386.46 263.7 386.61 264.8 386.76 265.5 386.91 266.1 387.06 266.7 387.21 267.5 387.36 266.0 387.51 260.8 387.67 252.8 387.82 242.8 387.97 232.3 388.12 223.3 388.27 218.1 388.42 219.9 388.57 230.0 388.72 245.1 388.88 262.6 389.03 279.6 389.18 293.4 389.33 301.4 389.48 301.7 389.63 297.5 389.78 290.7 389.93 282.7 390.09 275.2 390.24 269.5 390.39 266.2 390.54 265.9 390.69 265.4 390.84 264.2 390.99 262.7 391.14 261.0 391.30 259.3 391.45 257.9 391.60 257.4 391.75 259.2 391.90 263.9 392.05 270.5 392.20 276.9 392.35 282.2 392.50 285.9 392.66 287.8 392.81 287.6 392.96 286.0 393.11 283.3 393.26 279.8 393.41 276.0 393.56 263.6 393.71 237.7 393.87 211.7 394.02 187.5 394.17 186.9 394.32 186.0 394.47 184.8 394.62 183.9 394.77 183.3 394.92 183.8 395.08 186.4 395.23 190.4 395.38 194.6 395.53 197.8 395.68 199.2 395.83 199.0 395.98 197.7 396.13 194.8 396.29 189.9 396.44 183.6 396.59 176.8 396.74 170.2 396.89 164.6 397.04 161.5 397.19 162.6 397.34 166.6 397.50 172.5 397.65 178.9 397.80 185.5 397.95 191.4 398.10 208.2 398.25 235.9 398.40 263.6 398.55 282.6 398.71 278.4 398.86 274.4 399.01 271.7 399.16 270.7 399.31 270.9 399.46 274.6 399.61 282.0 399.76 291.4 399.91 301.9 400.07 312.0 400.22 319.9 400.37 323.9 400.52 323.5 400.67 321.8 400.82 319.6 400.97 317.6 401.12 316.6 401.28 316.5 401.43 316.7 401.58 316.4 401.73 311.1 401.88 301.8 402.03 291.4 402.18 281.2 402.33 272.6 402.49 266.5 402.64 264.3 402.79 264.2 402.94 265.1 403.09 267.2 403.24 270.7 403.39 274.5 403.54 277.7 403.70 279.4 403.85 278.3 404.00 274.3 404.15 268.6 404.30 262.1 404.45 255.9 404.60 251.2 404.75 248.9 404.91 249.8 405.06 253.3 405.21 258.4 405.36 264.0 405.51 269.1 405.66 272.9 405.81 275.0 405.96 275.4 406.12 278.5 406.27 284.0 406.42 290.7 406.57 297.7 406.72 303.9 406.87 309.3 407.02 313.7 407.17 316.2 407.32 318.7 407.48 321.2 407.63 326.5 407.78 327.5 407.93 328.1 408.08 328.4 408.23 327.0 408.38 322.3 408.53 315.5 408.69 307.8 408.84 300.4 408.99 293.9 409.14 289.4 409.29 287.7 409.44 285.5 409.59 283.2 409.74 280.5 409.90 277.8 410.05 275.5 410.20 274.1 410.35 274.1 410.50 273.9 410.65 273.1 410.80 271.5 410.95 269.4 411.11 267.0 411.26 264.9 411.41 263.8 411.56 265.6 411.71 271.1 411.86 278.7 412.01 287.2 412.16 295.2 412.32 301.1 412.47 304.5 412.62 306.7 412.77 311.2 412.92 317.0 413.07 322.8 413.22 327.4 413.37 330.6 413.53 332.0 413.68 330.8 413.83 324.0 413.98 312.4 414.13 297.8 414.28 281.6 414.43 265.4 414.58 249.3 414.73 233.1 414.89 216.9 415.04 200.8 415.19 184.6 415.34 168.4 415.49 152.3 415.64 154.2 415.79 157.1 415.94 159.2 416.10 157.1 416.25 150.2 416.40 143.5 416.55 142.0 416.70 142.8 416.85 144.0 417.00 145.2 417.15 147.3 417.31 150.3 417.46 152.9 417.61 152.8 417.76 149.8 417.91 146.6 418.06 146.1 418.21 150.0 418.36 155.1 418.52 156.9 418.67 154.1 418.82 149.8 418.97 147.5 419.12 148.9 419.27 151.2 419.42 153.2 419.57 154.4 419.73 155.2 419.88 155.8 420.03 156.1 420.18 155.4 420.33 154.2 420.48 153.8 420.63 159.6 420.78 169.2 420.94 178.8 421.09 183.9 421.24 183.4 421.39 185.2 421.54 187.9 421.69 191.2 421.84 194.7 421.99 197.9 422.14 200.7 422.30 202.6 422.45 204.0 422.60 206.6 422.75 210.8 422.90 216.3 423.05 221.9 423.20 227.0 423.35 231.4 423.51 234.4 423.66 235.3 423.81 234.1 423.96 231.4 424.11 227.7 424.26 223.7 424.41 220.4 424.56 219.1 424.72 221.4 424.87 227.7 425.02 237.2 425.17 248.5 425.32 259.7 425.47 269.4 425.62 275.8 425.77 277.4 425.93 274.6 426.08 269.2 426.23 262.8 426.38 257.0 426.53 252.7 426.68 250.7 426.83 252.0 426.98 256.2 427.14 266.8 427.29 276.6 427.44 286.5 427.59 291.9 427.74 297.0 427.89 299.9 428.04 300.1 428.19 298.3 428.35 295.0 428.50 290.5 428.65 285.6 428.80 281.4 428.95 278.9 429.10 278.7 429.25 284.7 429.40 302.2 429.55 319.8 429.71 337.6 429.86 355.5 430.01 371.6 430.16 353.6 430.31 336.7 430.46 322.2 430.61 310.6 430.76 301.9 430.92 305.0 431.07 309.6 431.22 311.4 431.37 311.0 431.52 309.8 431.67 308.2 431.82 306.6 431.97 305.3 432.13 304.7 432.28 304.9 432.43 305.4 432.58 305.2 432.73 305.0 432.88 305.4 433.03 306.1 433.18 306.7 433.34 306.9 433.49 306.8 433.64 306.8 433.79 306.9 433.94 307.5 434.09 308.5 434.24 309.8 434.39 311.0 434.55 311.9 434.70 313.3 434.85 314.6 435.00 315.6 435.15 316.4 435.30 317.4 435.45 318.9 435.60 320.0 435.76 319.0 435.91 315.3 436.06 309.8 436.21 303.2 436.36 296.6 436.51 291.2 436.66 288.4 436.81 288.6 436.96 290.1 437.12 292.6 437.27 295.3 437.42 297.5 437.57 298.7 437.72 298.9 437.87 299.0 438.02 302.2 438.17 308.3 438.33 316.2 438.48 324.2 438.63 331.1 438.78 335.8 438.93 337.4 439.08 337.5 439.23 337.3 439.38 337.2 439.54 337.2 439.69 337.7 439.84 338.5 439.99 339.3 440.14 325.7 440.29 307.8 440.44 289.9 440.59 278.8 440.75 275.8 440.90 273.4 441.05 272.0 441.20 273.0 441.35 278.2 441.50 286.3 441.65 295.7 441.80 305.1 441.96 313.8 442.11 320.0 442.26 321.6 442.41 319.0 442.56 313.2 442.71 305.8 442.86 298.1 443.01 291.4 443.17 286.7 443.32 284.5 443.47 285.4 443.62 289.2 443.77 295.1 443.92 302.2 444.07 309.0 444.22 314.2 444.37 316.6 444.53 313.3 444.68 301.9 444.83 285.3 444.98 266.3 445.13 248.1 445.28 233.8 445.43 226.8 445.58 228.9 445.74 238.0 445.89 250.9 446.04 258.7 446.19 260.8 446.34 262.9 446.49 265.1 446.64 267.2 446.79 269.4 446.95 271.5 447.10 273.7 447.25 269.5 447.40 251.5 447.55 232.7 447.70 213.1 447.85 192.6 448.00 172.6 448.16 194.7 448.31 217.6 448.46 241.2 448.61 265.7 448.76 291.0 448.91 299.4 449.06 295.5 449.21 278.9 449.37 261.0 449.52 244.6 449.67 231.6 449.82 224.3 449.97 223.9 450.12 224.5 450.27 224.8 450.42 225.3 450.58 225.7 450.73 226.1 450.88 226.4 451.03 226.4 451.18 232.0 451.33 244.4 451.48 261.1 451.63 280.0 451.79 298.4 451.94 312.9 452.09 320.1 452.24 316.4 452.39 303.0 452.54 283.5 452.69 261.8 452.84 231.0 452.99 210.5 453.15 199.7 453.30 194.9 453.45 189.9 453.60 195.6 453.75 215.4 453.90 243.6 454.05 277.9 454.20 313.4 454.36 333.2 454.51 331.5 454.66 328.1 454.81 324.2 454.96 320.7 455.11 318.2 455.26 317.2 455.41 317.7 455.57 331.7 455.72 321.8 455.87 308.0 456.02 292.8 456.17 278.7 456.32 267.9 456.47 262.8 456.62 262.7 456.78 263.5 456.93 264.8 457.08 266.6 457.23 268.7 457.38 270.6 457.53 271.8 457.68 272.9 457.83 277.7 457.99 286.0 458.14 296.4 458.29 306.9 458.44 315.8 458.59 321.0 458.74 321.1 458.89 316.2 459.04 308.2 459.20 298.9 459.35 290.0 459.50 282.3 459.65 277.1 459.80 275.3 459.95 274.6 460.10 272.7 460.25 270.1 460.40 267.2 460.56 264.3 460.71 262.0 460.86 261.1 461.01 263.3 461.16 271.6 461.31 284.0 461.46 297.8 461.61 310.9 461.77 321.6 461.92 328.0 462.07 328.7 462.22 326.0 462.37 321.0 462.52 314.6 462.67 307.3 462.82 300.0 462.98 294.3 463.13 291.8 463.28 293.3 463.43 298.2 463.58 305.5 463.73 313.9 463.88 321.7 464.03 327.4 464.19 329.6 464.34 326.8 464.49 318.5 464.64 306.9 464.79 293.8 464.94 280.9 465.09 276.2 465.24 277.0 465.40 277.8 465.55 278.7 465.70 279.5 465.85 280.3 466.00 281.1 466.15 281.9 466.30 272.1 466.45 257.0 466.61 241.6 466.76 225.9 466.91 209.9 467.06 206.4 467.21 223.0 467.36 239.9 467.51 257.1 467.66 274.6 467.81 290.8 467.97 291.6 468.12 282.9 468.27 272.3 468.42 264.5 468.57 260.7 468.72 261.1 468.87 262.8 469.02 265.4 469.18 269.0 469.33 273.0 469.48 276.5 469.63 278.7 469.78 279.4 469.93 282.1 470.08 286.8 470.23 293.0 470.39 300.1 470.54 306.9 470.69 311.5 470.84 312.8 470.99 314.4 471.14 317.1 471.29 320.7 471.44 324.6 471.60 328.1 471.75 330.7 471.90 331.6 472.05 333.0 472.20 333.1 472.35 333.1 472.50 333.1 472.65 333.2 472.81 333.2 472.96 333.3 473.11 333.3 473.26 333.3 473.41 333.4 473.56 333.4 473.71 333.5 473.86 333.5 474.02 333.5 474.17 333.6 474.32 333.6 474.47 333.7 474.62 333.7 474.77 333.7 474.92 333.8 475.07 333.8 475.22 333.8 475.38 333.9 475.53 333.9 475.68 334.0 475.83 308.2 475.98 278.2 476.13 248.1 476.28 218.1 476.43 188.0 476.59 192.1 476.74 222.2 476.89 252.3 477.04 282.5 477.19 312.6 477.34 334.4 477.49 334.4 477.64 334.5 477.80 334.5 477.95 334.5 478.10 338.2 478.25 341.5 478.40 344.1 478.55 345.0 478.70 342.1 478.85 335.4 479.01 325.9 479.16 315.4 479.31 305.8 479.46 299.4 479.61 297.8 479.76 298.4 479.91 298.4 480.06 297.6 480.22 296.1 480.37 294.3 480.52 292.9 480.67 292.4 480.82 292.7 480.97 293.4 481.12 294.7 481.27 296.3 481.43 297.8 481.58 299.0 481.73 299.5 481.88 299.5 482.03 298.9 482.18 298.0 482.33 296.9 482.48 295.1 482.63 292.8 482.79 290.7 482.94 289.9 483.09 293.7 483.24 301.5 483.39 311.6 483.54 322.2 483.69 331.4 483.84 337.5 484.00 339.0 484.15 337.7 484.30 336.5 484.45 335.9 484.60 336.0 484.75 336.4 484.90 337.0 485.05 337.5 485.21 337.9 485.36 338.6 485.51 339.6 485.66 340.7 485.81 341.9 485.96 342.6 486.11 342.6 486.26 341.7 486.42 338.0 486.57 332.2 486.72 325.5 486.87 318.9 487.02 313.1 487.17 309.1 487.32 307.9 487.47 308.3 487.63 308.9 487.78 309.7 487.93 310.6 488.08 311.7 488.23 312.8 488.38 313.7 488.53 314.3 488.68 314.7 488.84 329.2 488.99 345.0 489.14 360.7 489.29 376.4 489.44 392.0 489.59 388.6 489.74 374.9 489.89 365.3 490.04 361.0 490.20 361.4 490.35 366.7 490.50 373.8 490.65 375.8 490.80 377.3 490.95 379.7 491.10 382.8 491.25 385.9 491.41 388.7 491.56 390.4 491.71 390.6 491.86 389.7 492.01 388.6 492.16 387.8 492.31 387.7 492.46 388.1 492.62 388.7 492.77 389.2 492.92 386.8 493.07 370.5 493.22 346.1 493.37 321.6 493.52 297.2 493.67 272.7 493.83 248.3 493.98 223.8 494.13 216.7 494.28 216.2 494.43 216.0 494.58 215.9 494.73 215.9 494.88 215.9 495.04 216.4 495.19 225.1 495.34 242.4 495.49 264.7 495.64 288.2 495.79 309.2 495.94 324.3 496.09 330.1 496.25 326.9 496.40 319.0 496.55 308.6 496.70 297.0 496.85 286.0 497.00 277.0 497.15 272.3 497.30 273.4 497.45 278.2 497.61 285.3 497.76 293.3 497.91 301.0 498.06 307.3 498.21 311.2 498.36 311.4 498.51 306.6 498.66 298.2 498.82 287.8 498.97 276.9 499.12 267.1 499.27 259.5 499.42 256.0 499.57 255.7 499.72 257.3 499.87 260.8 500.03 265.2 500.18 269.8 500.33 273.4 500.48 275.2 500.63 275.6 500.78 276.5 500.93 277.7 501.08 279.1 501.24 280.5 501.39 281.3 501.54 281.3 501.69 280.6 501.84 279.2 501.99 277.6 502.14 276.3 502.29 275.1 502.45 274.2 502.60 273.5 502.75 273.3 502.90 274.4 503.05 277.1 503.20 280.9 503.35 285.5 503.50 290.3 503.66 294.5 503.81 296.7 503.96 293.4 504.11 283.4 504.26 269.7 504.41 254.8 504.56 240.7 504.71 229.8 504.86 224.4 505.02 226.8 505.17 237.0 505.32 252.5 505.47 270.5 505.62 287.9 505.77 302.1 505.92 310.5 506.07 312.0 506.23 313.9 506.38 316.9 506.53 320.6 506.68 324.4 506.83 327.7 506.98 329.8 507.13 329.8 507.28 323.3 507.44 310.6 507.59 294.5 507.74 277.9 507.89 263.1 508.04 252.4 508.19 248.1 508.34 250.4 508.49 256.3 508.65 264.3 508.80 272.7 508.95 279.9 509.10 285.0 509.25 287.2 509.40 287.7 509.55 291.4 509.70 297.7 509.86 304.7 510.01 311.4 510.16 317.1 510.31 320.9 510.46 321.8 510.61 319.2 510.76 313.6 510.91 306.2 511.07 297.7 511.22 289.4 511.37 283.0 511.52 280.4 511.67 278.2 511.82 274.8 511.97 270.5 512.12 263.0 512.27 252.9 512.43 242.8 512.58 232.7 512.73 222.6 512.88 212.5 513.03 202.4 513.18 192.2 513.33 182.1 513.48 172.0 513.64 161.9 513.79 151.8 513.94 141.7 514.09 141.0 514.24 145.7 514.39 151.0 514.54 153.1 514.69 156.3 514.85 160.7 515.00 163.5 515.15 162.4 515.30 159.2 515.45 157.5 515.60 159.9 515.75 165.5 515.90 170.6 516.06 171.5 516.21 167.0 516.36 161.2 516.51 158.7 516.66 162.5 516.81 168.7 516.96 173.0 517.11 170.8 517.27 163.0 517.42 156.0 517.57 155.7 517.72 160.6 517.87 166.3 518.02 168.9 518.17 168.4 518.32 167.2 518.48 166.5 518.63 167.3 518.78 169.6 518.93 171.6 519.08 171.0 519.23 163.7 519.38 155.6 519.53 153.2 519.69 155.8 519.84 159.6 519.99 161.9 520.14 166.3 520.29 176.5 520.44 185.5 520.59 186.0 520.74 177.9 520.89 168.7 521.05 166.9 521.20 171.9 521.35 178.4 521.50 182.0 521.65 198.9 521.80 219.0 521.95 239.0 522.10 242.4 522.26 239.8 522.41 239.4 522.56 241.1 522.71 244.3 522.86 248.1 523.01 251.4 523.16 253.4 523.31 254.7 523.47 255.4 523.62 256.0 523.77 256.3 523.92 256.1 524.07 255.5 524.22 254.7 524.37 254.0 524.52 254.2 524.68 255.2 524.83 258.1 524.98 263.9 525.13 271.2 525.28 279.2 525.43 286.9 525.58 293.2 525.73 297.2 525.89 298.1 526.04 297.4 526.19 295.8 526.34 293.7 526.49 291.7 526.64 291.0 526.79 291.5 526.94 293.0 527.10 290.8 527.25 284.0 527.40 274.4 527.55 264.0 527.70 255.0 527.85 249.4 528.00 250.7 528.15 251.8 528.30 253.0 528.46 254.2 528.61 255.3 528.76 256.5 528.91 257.6 529.06 258.8 529.21 260.0 529.36 261.1 529.51 262.3 529.67 263.5 529.82 264.6 529.97 265.8 530.12 266.9 530.27 268.1 530.42 269.3 530.57 270.4 530.72 271.6 530.88 272.7 531.03 273.9 531.18 275.1 531.33 276.2 531.48 277.4 531.63 276.7 531.78 268.8 531.93 260.4 532.09 251.7 532.24 242.4 532.39 232.8 532.54 241.3 532.69 251.8 532.84 262.8 532.99 274.2 533.14 286.1 533.30 291.3 533.45 292.5 533.60 293.6 533.75 294.8 533.90 296.0 534.05 297.1 534.20 298.3 534.35 299.4 534.51 300.6 534.66 301.8 534.81 302.9 534.96 304.1 535.11 305.2 535.26 306.4 535.41 307.6 535.56 308.7 535.71 309.9 535.87 311.1 536.02 312.6 536.17 308.6 536.32 304.2 536.47 299.9 536.62 296.7 536.77 295.2 536.92 295.7 537.08 297.2 537.23 299.6 537.38 302.3 537.53 304.7 537.68 306.4 537.83 307.6 537.98 308.3 538.13 308.7 538.29 309.0 538.44 308.7 538.59 307.4 538.74 306.0 538.89 304.9 539.04 304.5 539.19 301.4 539.34 295.0 539.50 286.8 539.65 278.0 539.80 270.4 539.95 265.7 540.10 265.1 540.25 268.4 540.40 274.3 540.55 281.0 540.71 287.8 540.86 294.0 541.01 298.9 541.16 301.9 541.31 300.7 541.46 292.8 541.61 280.1 541.76 264.8 541.92 249.2 542.07 236.3 542.22 228.4 542.37 227.7 542.52 230.9 542.67 236.4 542.82 243.1 542.97 250.0 543.12 256.0 543.28 255.8 543.43 248.4 543.58 240.7 543.73 232.9 543.88 223.9 544.03 218.0 544.18 229.4 544.33 241.6 544.49 254.0 544.64 264.4 544.79 268.6 544.94 257.9 545.09 245.0 545.24 233.3 545.39 224.8 545.54 221.1 545.70 223.0 545.85 228.7 546.00 236.5 546.15 245.0 546.30 253.3 546.45 260.3 546.60 264.8 546.75 266.1 546.91 269.3 547.06 275.0 547.21 282.1 547.36 289.4 547.51 295.8 547.66 300.0 547.81 301.2 547.96 300.8 548.12 304.0 548.27 299.3 548.42 284.1 548.57 265.5 548.72 247.1 548.87 229.0 549.02 216.9 549.17 235.4 549.33 251.5 549.48 264.3 549.63 274.1 549.78 282.2 549.93 280.5 550.08 281.0 550.23 287.6 550.38 298.1 550.53 310.5 550.69 323.0 550.84 334.0 550.99 341.7 551.14 343.8 551.29 342.2 551.44 338.9 551.59 334.4 551.74 329.7 551.90 325.6 552.05 322.8 552.20 322.0 552.35 320.9 552.50 317.1 552.65 311.6 552.80 305.6 552.95 300.1 553.11 296.1 553.26 294.8 553.41 296.7 553.56 301.0 553.71 306.7 553.86 312.4 554.01 317.6 554.16 321.8 554.32 324.4 554.47 325.0 554.62 324.5 554.77 323.4 554.92 322.0 555.07 320.6 555.22 319.5 555.37 318.9 555.53 319.0 555.68 319.1 555.83 319.0 555.98 318.8 556.13 318.5 556.28 318.3 556.43 318.3 556.58 318.6 556.74 319.5 556.89 319.8 557.04 319.2 557.19 317.5 557.34 314.9 557.49 311.9 557.64 309.7 557.79 309.9 557.94 315.8 558.10 325.8 558.25 338.0 558.40 350.2 558.55 360.4 558.70 366.8 558.85 368.8 559.00 367.3 559.15 363.4 559.31 357.8 559.46 351.3 559.61 345.2 559.76 340.6 559.91 339.0 560.06 339.5 560.21 340.1 560.36 340.7 560.52 341.3 560.67 342.3 560.82 343.8 560.97 346.0 561.12 348.3 561.27 350.8 561.42 352.6 561.57 354.0 561.73 355.5 561.88 356.7 562.03 357.6 562.18 358.0 562.33 364.2 562.48 370.6 562.63 376.1 562.78 381.0 562.94 385.2 563.09 385.5 563.24 383.6 563.39 378.5 563.54 366.6 563.69 346.9 563.84 323.8 563.99 308.9 564.15 298.0 564.30 293.9 564.45 297.4 564.60 305.5 564.75 316.2 564.90 327.7 565.05 338.0 565.20 345.5 565.35 349.0 565.51 349.2 565.66 350.7 565.81 353.4 565.96 356.8 566.11 360.1 566.26 362.8 566.41 364.0 566.56 363.2 566.72 358.4 566.87 350.9 567.02 342.4 567.17 334.5 567.32 328.2 567.47 324.4 567.62 323.9 567.77 325.2 567.93 326.7 568.08 321.6 568.23 310.9 568.38 300.2 568.53 289.5 568.68 278.8 568.83 268.1 568.98 257.4 569.14 246.7 569.29 236.0 569.44 225.3 569.59 214.6 569.74 203.9 569.89 193.2 570.04 182.5 570.19 171.8 570.35 161.1 570.50 150.4 570.65 159.3 570.80 172.4 570.95 182.3 571.10 179.6 571.25 166.4 571.40 152.9 571.56 149.1 571.71 148.1 571.86 147.3 572.01 147.0 572.16 149.7 572.31 154.7 572.46 158.1 572.61 159.4 572.76 163.7 572.92 168.1 573.07 168.9 573.22 164.8 573.37 159.4 573.52 157.2 573.67 163.1 573.82 172.9 573.97 179.0 574.13 172.6 574.28 154.9 574.43 139.9 574.58 140.6 574.73 155.7 574.88 172.4 575.03 177.9 575.18 177.5 575.34 176.9 575.49 176.4 575.64 168.8 575.79 152.4 575.94 139.2 576.09 135.4 576.24 127.6 576.39 119.9 576.55 119.1 576.70 131.3 576.85 147.4 577.00 156.0 577.15 156.9 577.30 158.2 577.45 159.0 577.60 181.0 577.76 214.9 577.91 248.9 578.06 271.6 578.21 280.5 578.36 288.2 578.51 293.1 578.66 293.8 578.81 290.7 578.97 285.0 579.12 277.6 579.27 269.8 579.42 262.9 579.57 258.3 579.72 257.6 579.87 261.9 580.02 269.6 580.18 279.0 580.33 288.2 580.48 296.8 580.63 303.8 580.78 307.8 580.93 307.5 581.08 303.7 581.23 298.0 581.38 291.5 581.54 285.2 581.69 280.2 581.84 276.9 581.99 275.5 582.14 275.5 582.29 277.0 582.44 280.3 582.59 284.8 582.75 289.4 582.90 293.0 583.05 294.2 583.20 288.9 583.35 260.6 583.50 234.2 583.65 212.7 583.80 197.1 583.96 187.0 584.11 190.5 584.26 199.7 584.41 212.1 584.56 228.6 584.71 249.2 584.86 266.5 585.01 273.8 585.17 277.5 585.32 278.9 585.47 282.2 585.62 286.7 585.77 291.4 585.92 295.2 586.07 298.2 586.22 300.3 586.38 300.1 586.53 294.0 586.68 283.0 586.83 268.1 586.98 252.3 587.13 238.4 587.28 229.7 587.43 228.6 587.59 236.6 587.74 251.3 587.89 269.3 588.04 287.4 588.19 302.9 588.34 313.5 588.49 317.2 588.64 313.3 588.79 303.9 588.95 290.6 589.10 275.7 589.25 261.6 589.40 250.6 589.55 245.2 589.70 246.4 589.85 250.7 590.00 256.7 590.16 263.3 590.31 270.4 590.46 276.9 590.61 281.5 590.76 282.9 590.91 280.9 591.06 277.2 591.21 272.6 591.37 267.6 591.52 263.0 591.67 258.8 591.82 256.0 591.97 256.2 592.12 259.6 592.27 265.7 592.42 272.9 592.58 279.8 592.73 285.1 592.88 287.8 593.03 290.2 593.18 292.2 593.33 294.1 593.48 296.0 593.63 294.6 593.79 297.2 593.94 299.6 594.09 300.0 594.24 295.1 594.39 285.7 594.54 274.3 594.69 262.8 594.84 253.0 595.00 246.6 595.15 245.6 595.30 252.7 595.45 266.3 595.60 283.8 595.75 302.4 595.90 319.0 596.05 330.9 596.20 335.1 596.36 332.2 596.51 325.2 596.66 316.2 596.81 306.5 596.96 297.3 597.11 289.8 597.26 285.9 597.41 286.2 597.57 287.6 597.72 289.6 597.87 291.8 598.02 293.1 598.17 293.5 598.32 293.3 598.47 292.9 598.62 293.7 598.78 295.2 598.93 297.0 599.08 298.7 599.23 300.1 599.38 301.4 599.53 302.1 599.68 301.0 599.83 298.0 599.99 293.6 600.14 289.0 600.29 285.0 600.44 282.1 600.59 280.9 600.74 280.8 600.89 280.3 601.04 279.4 601.20 278.2 601.35 276.7 601.50 274.6 601.65 272.6 601.80 272.0 601.95 275.3 602.10 281.9 602.25 290.2 602.41 298.6 602.56 305.7 602.71 310.0 602.86 310.6 603.01 309.5 603.16 307.6 603.31 305.5 603.46 303.6 603.61 302.3 603.77 301.8 603.92 302.0 604.07 300.6 604.22 296.3 604.37 289.7 604.52 282.2 604.67 275.5 604.82 271.1 604.98 269.3 605.13 271.0 605.28 276.5 605.43 284.6 605.58 293.6 605.73 302.3 605.88 309.3 606.03 313.2 606.19 312.9 606.34 309.2 606.49 303.9 606.64 297.4 606.79 290.4 606.94 283.4 607.09 277.7 607.24 274.8 607.40 270.9 607.55 265.5 607.70 260.0 607.85 254.6 608.00 249.9 608.15 246.7 608.30 245.5 608.45 246.5 608.61 248.9 608.76 252.4 608.91 256.6 609.06 261.1 609.21 265.0 609.36 267.4 609.51 267.4 609.66 265.3 609.82 261.6 609.97 256.9 610.12 252.0 610.27 248.0 610.42 245.8 610.57 246.3 610.72 248.8 610.87 252.1 611.02 255.4 611.18 257.8 611.33 248.9 611.48 236.6 611.63 223.4 611.78 211.6 611.93 199.3 612.08 203.1 612.23 225.4 612.39 251.6 612.54 279.5 612.69 305.7 612.84 321.1 612.99 315.5 613.14 308.2 613.29 300.6 613.44 293.3 613.60 287.4 613.75 284.2 613.90 285.1 614.05 270.9 614.20 256.6 614.35 239.7 614.50 218.7 614.65 193.2 614.81 204.8 614.96 233.6 615.11 261.7 615.26 288.6 615.41 314.3 615.56 327.5 615.71 324.5 615.86 322.4 616.02 321.7 616.17 317.1 616.32 306.6 616.47 292.7 616.62 277.7 616.77 264.1 616.92 253.9 617.07 249.1 617.23 252.5 617.38 264.3 617.53 282.0 617.68 303.4 617.83 324.5 617.98 341.7 618.13 351.1 618.28 351.3 618.43 349.5 618.59 347.4 618.74 345.6 618.89 344.6 619.04 343.4 619.19 342.4 619.34 341.4 619.49 334.3 619.64 320.9 619.80 304.0 619.95 286.1 620.10 269.8 620.25 258.1 620.40 254.1 620.55 259.3 620.70 271.5 620.85 287.7 621.01 305.3 621.16 319.7 621.31 334.1 621.46 348.6 621.61 356.2 621.76 352.1 621.91 344.8 622.06 336.3 622.22 328.4 622.37 323.2 622.52 321.6 622.67 323.9 622.82 327.0 622.97 329.6 623.12 331.3 623.27 332.5 623.43 333.3 623.58 334.2 623.73 335.3 623.88 339.1 624.03 345.9 624.18 354.4 624.33 363.6 624.48 372.3 624.64 379.7 624.79 384.2 624.94 383.8 625.09 378.0 625.24 368.2 625.39 356.5 625.54 345.3 625.69 336.5 625.84 332.5 626.00 333.2 626.15 336.0 626.30 340.1 626.45 345.3 626.60 351.1 626.75 357.0 626.90 361.8 627.05 364.8 627.21 369.2 627.36 375.6 627.51 383.5 627.66 391.7 627.81 399.1 627.96 404.5 628.11 405.9 628.26 408.1 628.42 410.3 628.57 412.5 628.72 414.7 628.87 416.9 629.02 419.1 629.17 421.3 629.32 423.5 629.47 425.7 629.63 427.9 629.78 430.1 629.93 432.2 630.08 436.5 630.23 436.0 630.38 436.1 630.53 437.1 630.68 438.8 630.84 441.1 630.99 443.6 631.14 445.9 631.29 447.5 631.44 447.9 631.59 447.1 631.74 445.4 631.89 443.6 632.05 442.2 632.20 441.8 632.35 442.3 632.50 443.3 632.65 444.1 632.80 444.0 632.95 443.3 633.10 442.3 633.25 441.4 633.41 440.7 633.56 440.4 633.71 439.4 633.86 437.1 634.01 433.8 634.16 402.0 634.31 370.2 634.46 338.4 634.62 306.6 634.77 274.9 634.92 243.1 635.07 211.3 635.22 179.5 635.37 147.7 635.52 118.2 635.67 120.0 635.83 122.7 635.98 124.4 636.13 121.0 636.28 112.3 636.43 104.9 636.58 104.5 636.73 108.2 636.88 112.3 637.04 113.7 637.19 113.6 637.34 113.5 637.49 113.9 637.64 117.5 637.79 124.9 637.94 131.2 638.09 132.1 638.25 129.7 638.40 126.7 638.55 125.1 638.70 120.4 638.85 114.3 639.00 111.0 639.15 112.6 639.30 116.2 639.46 119.2 639.61 118.5 639.76 113.8 639.91 108.9 640.06 107.5 640.21 111.1 640.36 116.2 640.51 123.5 640.67 135.9 640.82 148.3 640.97 160.7 641.12 173.1 641.27 185.5 641.42 198.0 641.57 210.4 641.72 222.8 641.87 235.2 642.03 250.0 642.18 256.2 642.33 259.1 642.48 259.6 642.63 263.4 642.78 270.3 642.93 278.8 643.08 287.4 643.24 294.8 643.39 299.8 643.54 302.6 643.69 302.8 643.84 300.9 643.99 297.4 644.14 293.4 644.29 289.8 644.45 287.6 644.60 287.6 644.75 287.9 644.90 286.1 645.05 282.9 645.20 279.2 645.35 275.8 645.50 273.4 645.66 272.3 645.81 273.9 645.96 279.3 646.11 287.6 646.26 297.8 646.41 308.5 646.56 317.8 646.71 324.2 646.87 326.4 647.02 326.1 647.17 324.3 647.32 321.8 647.47 319.1 647.62 316.8 647.77 315.7 647.92 316.3 648.08 320.7 648.23 328.8 648.38 339.3 648.53 350.8 648.68 361.5 648.83 369.8 648.98 374.0 649.13 372.7 649.28 368.0 649.44 361.8 649.59 355.8 649.74 351.8 649.89 350.2 650.04 351.1 650.19 355.2 650.34 363.4 650.49 374.2 650.65 386.4 650.80 398.6 650.95 409.5 651.10 412.4 651.25 410.7 651.40 409.0 651.55 407.4 651.70 405.7 651.86 404.0 652.01 402.5 652.16 400.2 652.31 398.5 652.46 396.8 652.61 395.0 652.76 393.0 652.91 390.6 653.07 387.8 653.22 384.3 653.37 380.6 653.52 376.5 653.67 369.7 653.82 362.1 653.97 355.0 654.12 348.6 654.28 343.5 654.43 340.4 654.58 339.1 654.73 336.9 654.88 333.8 655.03 330.5 655.18 327.6 655.33 325.4 655.49 323.9 655.64 323.5 655.79 327.1 655.94 334.6 656.09 344.4 656.24 354.8 656.39 364.2 656.54 370.9 656.69 373.2 656.85 372.7 657.00 371.6 657.15 370.1 657.30 368.1 657.45 366.0 657.60 364.4 657.75 363.4 657.90 362.6 658.06 354.5 658.21 342.1 658.36 329.8 658.51 317.5 658.66 305.1 658.81 292.8 658.96 280.4 659.11 275.3 659.27 270.7 659.42 264.6 659.57 257.7 659.72 251.2 659.87 246.5 660.02 244.8 660.17 244.0 660.32 242.3 660.48 240.1 660.63 237.8 660.78 235.7 660.93 234.6 661.08 235.2 661.23 238.8 661.38 246.3 661.53 255.7 661.69 265.2 661.84 273.7 661.99 280.2 662.14 283.7 662.29 283.7 662.44 281.8 662.59 278.7 662.74 275.3 662.90 272.1 663.05 269.8 663.20 268.7 663.35 269.0 663.50 269.7 663.65 270.4 663.80 271.6 663.95 273.3 664.10 274.9 664.26 275.9 664.41 275.8 664.56 275.1 664.71 274.4 664.86 274.2 665.01 274.8 665.16 276.3 665.31 278.3 665.47 280.0 665.62 281.4 665.77 283.3 665.92 285.5 666.07 288.0 666.22 290.4 666.37 292.6 666.52 294.1 666.68 293.6 666.83 287.3 666.98 276.4 667.13 262.9 667.28 248.3 667.43 235.1 667.58 225.8 667.73 222.8 667.89 223.2 668.04 224.2 668.19 225.4 668.34 226.7 668.49 227.9 668.64 228.9 668.79 229.4 668.94 233.7 669.10 245.4 669.25 261.7 669.40 280.1 669.55 297.9 669.70 312.1 669.85 319.6 670.00 320.0 670.15 319.3 670.31 318.1 670.46 316.8 670.61 315.3 670.76 313.5 670.91 311.7 671.06 310.5 671.21 309.3 671.36 308.6 671.51 308.5 671.67 308.8 671.82 309.2 671.97 309.2 672.12 308.9 672.27 302.2 672.42 287.4 672.57 267.9 672.72 246.9 672.88 227.5 673.03 212.7 673.18 205.8 673.33 205.7 673.48 206.1 673.63 206.9 673.78 208.0 673.93 209.0 674.09 209.6 674.24 210.2 674.39 211.6 674.54 215.3 674.69 220.4 674.84 225.6 674.99 229.7 675.14 232.3 675.30 233.4 675.45 233.0 675.60 234.7 675.75 238.8 675.90 244.2 676.05 249.5 676.20 253.6 676.35 255.5 676.51 255.1 676.66 255.0 676.81 257.3 676.96 261.6 677.11 267.2 677.26 272.9 677.41 277.6" stroke="#ff0000" stroke-width="1.2" fill="none" stroke-linejoin="round"/><path d="M58.6 31.5 V519.0 H678.0" fill="none" stroke="#000" stroke-width="1"/><path d="M58.6 509.3 h6 M58.6 442.9 h6 M58.6 376.5 h6 M58.6 310.1 h6 M58.6 243.8 h6 M58.6 177.4 h6 M58.6 111.0 h6 M58.6 44.6 h6 M134.2 519.0 v-6 M209.8 519.0 v-6 M285.4 519.0 v-6 M361.1 519.0 v-6 M436.7 519.0 v-6 M512.3 519.0 v-6 M587.9 519.0 v-6 M663.5 519.0 v-6" stroke="#000" stroke-width="1"/><text x="51" y="516.9" text-anchor="end" font-size="19">−2</text><text x="51" y="450.5" text-anchor="end" font-size="19">0</text><text x="51" y="384.1" text-anchor="end" font-size="19">2</text><text x="51" y="317.7" text-anchor="end" font-size="19">4</text><text x="51" y="251.4" text-anchor="end" font-size="19">6</text><text x="51" y="185.0" text-anchor="end" font-size="19">8</text><text x="51" y="118.6" text-anchor="end" font-size="19">10</text><text x="51" y="52.2" text-anchor="end" font-size="19">12</text><text x="58.6" y="541" text-anchor="middle" font-size="19">0</text><text x="134.2" y="541" text-anchor="middle" font-size="19">500</text><text x="209.8" y="541" text-anchor="middle" font-size="19">1000</text><text x="285.4" y="541" text-anchor="middle" font-size="19">1500</text><text x="361.1" y="541" text-anchor="middle" font-size="19">2000</text><text x="436.7" y="541" text-anchor="middle" font-size="19">2500</text><text x="512.3" y="541" text-anchor="middle" font-size="19">3000</text><text x="587.9" y="541" text-anchor="middle" font-size="19">3500</text><text x="663.5" y="541" text-anchor="middle" font-size="19">4000</text><text x="293" y="568.5" font-size="19">Sequency index</text><text transform="translate(16,275) rotate(-90)" text-anchor="middle" font-size="19">Magnitude</text><text x="103" y="16" font-size="19" letter-spacing="0.04">Noisy, in blue, and Filterd using Sgolay filter, in red, ECG signal</text></svg>
</body></html>
